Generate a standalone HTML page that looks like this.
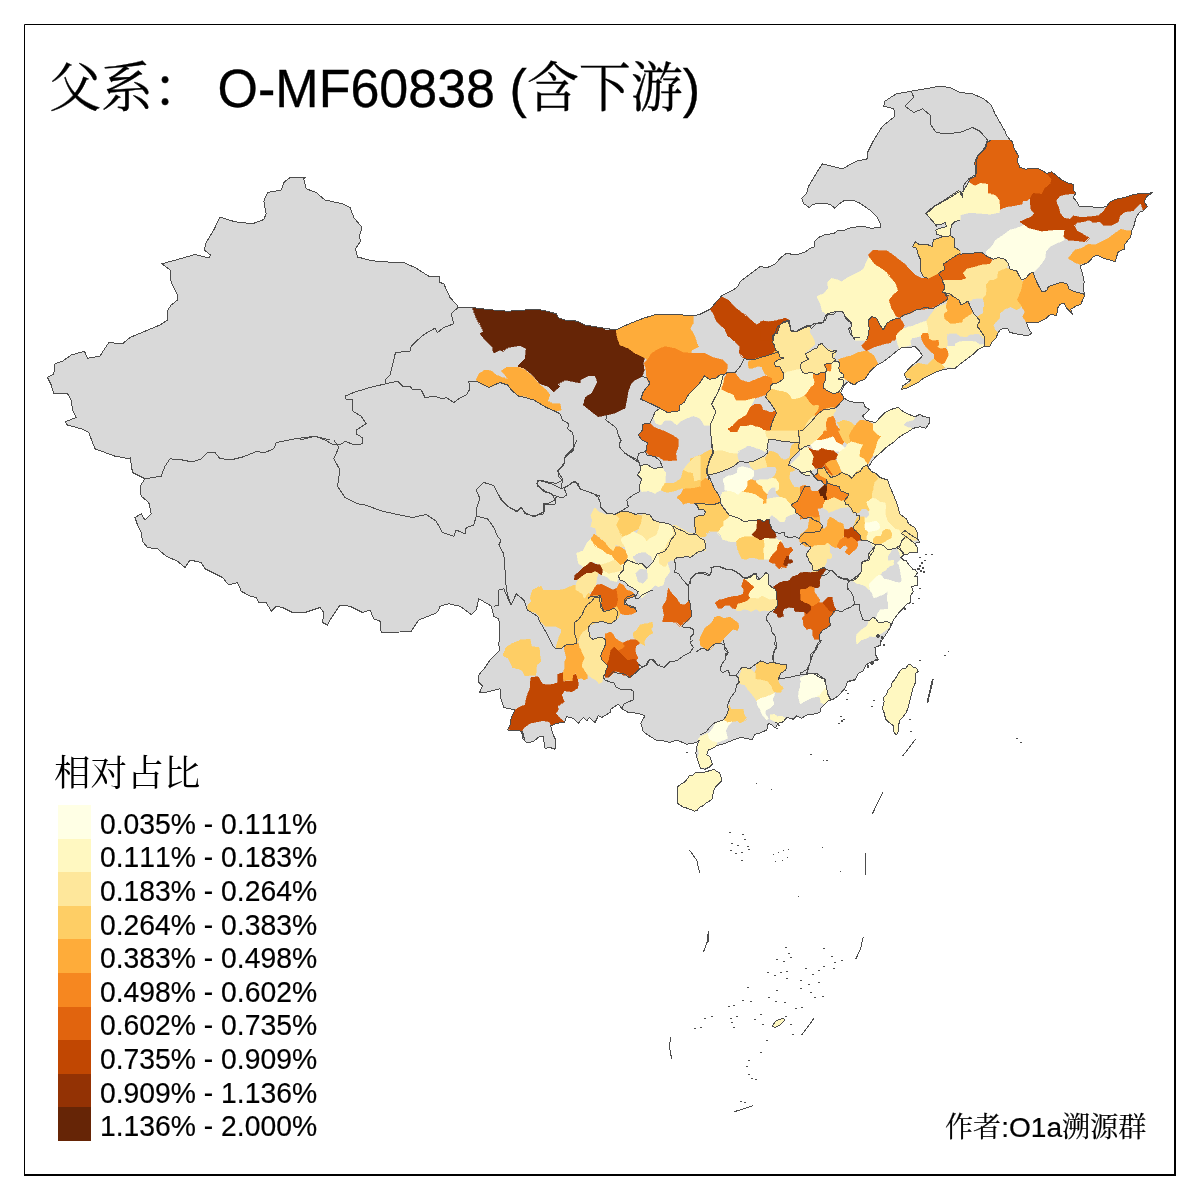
<!DOCTYPE html>
<html lang="zh"><head><meta charset="utf-8"><title>父系 O-MF60838</title>
<style>
html,body{margin:0;padding:0;background:#fff;}
body{width:1200px;height:1200px;overflow:hidden;font-family:"Liberation Sans","Noto Serif CJK SC",sans-serif;}
svg{display:block}
.t{font-family:"Liberation Sans","Noto Serif CJK SC",serif;fill:#000;font-kerning:none;white-space:pre}
</style></head><body>
<svg width="1200" height="1200" viewBox="0 0 1200 1200">
<rect x="0" y="0" width="1200" height="1200" fill="#fff"/>

<g fill="#D9D9D9" stroke="#4D4D4D" stroke-width="1" stroke-linejoin="round" shape-rendering="crispEdges">
<path d="M305,177.5 290,177.5 283.8,182.5 281.2,190 267.5,192.5 263.8,201.2 266.2,213.8 263.8,219.5 252.5,223.8 235,221.8 220,217 213.8,230 206.2,242.5 204.2,250 210.5,255 208.8,258 195,254.5 180,258.8 161.8,263.8 170,270 171.2,282.5 177.5,295 177.5,300 171.2,305 167,311.2 167.5,320 160,325 145,331.2 130,337.5 122.5,343.8 108.8,342.5 103.8,350 100,356.2 87.5,358.2 84.5,351.2 71.2,355 62.5,361.2 55,363.8 53.8,373.8 47.5,377.5 51.2,385 53.8,393.8 67.5,393.8 71.2,400 72.5,410 76.2,417.5 65,421.8 67.5,425 81.2,428.8 88.8,432.5 92.5,442.5 95,448.8 105,452.5 115,456.2 130,458.8 130,457 132.5,472.5 145,478.8 140,486.2 141.2,496.2 148.8,502.5 151.2,513.8 145,520 141.2,513.8 135,517.5 137.5,525 141.2,532.5 142.5,541.2 147.5,547.5 157.5,548.8 166.2,556.2 177.5,561.2 185,567.5 190,560 201.2,562.5 205,568.8 215,573.8 222.5,577.5 228.8,585 237.5,582.5 241.2,591.2 250,596.2 256.2,597.5 258.8,602.5 266.2,602.5 271.2,611.2 276.2,606.2 282.5,607.5 292.5,612.5 305,612.5 320,607.5 323.8,612.5 322.5,622.5 327.5,625 330,620 340,605 350,606.2 362.5,612.5 370,610 373.8,618.8 380,621.2 381.2,632.5 400,632 411.2,631.2 418.8,620 437.5,612.5 440,606.2 448.8,603.8 460,606.2 471.2,614.5 476.2,610 478.8,598.8 487.5,603.8 491.2,606.2 493.8,616.2 498.8,618.8 500,630 498.8,645 500,650 490,660 485,667.5 478.8,675 478.8,682.5 482.5,686.2 479.5,692.5 485,692.5 500,688.8 500,696.2 503.8,707.5 515,710 511.2,717.5 510,725 507.5,730 522.5,731.2 525,740 521.7,731.7 522.5,738.3 526.7,742.5 533.3,741.7 539.2,736.7 543.3,736.7 545,748.3 550,747.5 555,749.2 555.8,740 552.5,733.3 550.8,725.8 556.7,723.3 564.2,722.5 566.7,716.7 573.3,718.3 578.3,723.3 583.3,717.5 586.7,720.8 589.2,717.5 595,722.5 598.3,715.8 601.7,717.5 610,712.5 610.8,709.2 618.3,704.2 622.5,709.2 628.3,712.5 638.3,713.3 645,715.8 640.8,723.3 643.3,731.7 649.2,735.8 655.8,740 663.3,740.8 670,742.5 676.7,740 686.7,744.2 696.7,742.5 699.2,740 696.7,746.7 695.8,753.3 697.5,760 700,766.7 700,768.3 705,769.2 710,766.7 712.5,764.2 710,756.7 706.7,755 708.3,750 712.5,748.3 716.7,745.8 725,743.3 733.3,740 740,737.5 746.7,738.3 751.7,740 755,734.2 759.2,733.3 766.7,730 768.3,723.3 771.7,725 775,728.3 778.3,723.3 783.3,721.7 786.7,717.5 793.3,719.2 796.7,715.8 801.7,718.3 806.7,715 813.3,714.2 820,712.5 820.8,708.3 825,704.2 828.3,700.8 833.3,699.2 838.3,695.8 845,688.3 847.5,681.7 855,680 858.3,673.3 863.3,670.8 865.8,665 871.7,661.7 878.3,660 875.8,655 875,647.5 880.8,645 880,640 880,643.3 883.3,638.3 886.7,633.3 890.8,626.7 893.3,620 898.3,613.3 903.3,608.3 906.7,604.2 910.8,602.5 910,596.7 913.3,591.7 911.7,586.7 917.5,585 917.5,580 917.5,576.5 914.5,576.5 917.5,573 915,569.5 913,569.5 910.5,566.5 908,563.5 906,560.5 903.5,560 900.5,557.2 904,554.5 906.5,555 910,552.5 917.5,552.5 917.5,548 915,544 917,542 920,542 917.5,539 917.5,533 916,530 914.5,527.5 912,526 908.3,523.3 906.7,519.2 900,514.2 897.5,505 894.2,496.7 890,486.7 887.5,480 880,477.5 875.8,473.3 871.7,471.7 868.3,467.5 871.7,461.7 875.8,456.7 880,453.3 884.2,449.2 888.3,445.8 893.3,442.5 897.5,438.3 902.5,435 908.3,431.7 913.3,428.3 920,426.7 925.8,428.3 929.2,423.3 930,417.5 923.3,416.7 920,414.2 915,416.7 908.3,414.2 903.3,411.7 898.3,407.5 894.2,408.3 890,410 885,412.5 880,417.5 875.8,422.5 870.8,421.7 865.8,420 862.5,415.8 866.7,412.5 869.2,409.2 865,406.7 863.3,402.5 856.7,402.5 850,401.7 844.2,398.3 840.8,392.5 844.2,385 848.3,381.7 854.2,385 858.3,381.7 865,379.2 869.2,372.5 873.3,368.3 878.3,364.2 883.3,361.7 890,356.7 895,352.5 901.7,347.5 908.3,347.5 915,346.7 919.2,350.8 922.5,355.8 916.7,361.7 911.7,365.8 908.3,369.2 904.2,374.2 906.7,379.2 910.8,380 906.7,383.3 902.5,385.8 901.7,389.2 906.7,388.3 913.3,385 919.2,381.7 923.3,378.3 930,375 936.7,371.7 945,369.2 955,368.3 960,364.2 966.7,359.2 973.3,354.2 978.3,349.2 983,347 990,346 992,342 996,338 998,333 1000,330 1004,328 1008,329 1010,332.5 1018.3,334.2 1027.5,335.8 1031.7,333.3 1028.3,328.3 1026.7,322.5 1038.3,322.5 1045,319.2 1050.8,314.2 1056.7,315.8 1057.5,308.3 1060,304.2 1064.2,303.3 1066.7,308.3 1072.5,314.2 1070.8,309.2 1076.7,305.8 1080.8,304.2 1085,295 1083.3,290 1084.2,281.7 1082.5,273.3 1080,265.8 1088.3,262.5 1093.3,256.7 1096.7,255 1103.3,258.3 1110,260 1115,261.7 1118.3,251.7 1124.2,249.2 1125,244.2 1130.8,236.7 1131.7,230.8 1134.2,225 1135.8,218.3 1139.2,212.5 1143.3,210.8 1147.5,206.7 1144.2,201.7 1146.7,196.7 1152.5,192.5 1148.3,193.3 1140.8,193.3 1131.7,195 1124.2,197.5 1115.8,199.2 1109.2,202.5 1106.7,206.7 1100,207.5 1089.2,206.7 1079.2,206.7 1076.7,201.7 1073.3,197.5 1075.8,193.3 1073.3,190 1073.3,184.2 1068.3,183.3 1061.7,180 1056.7,175.8 1051.7,171.7 1046.7,173.3 1040,169.2 1033.3,168.3 1025.8,169.2 1020,167.5 1017.5,161.7 1018.3,155.8 1014.2,148.3 1011.7,140 1011.2,141.2 1006.2,135 1005,131.2 1000,122.5 995,113.8 991.2,105 983.8,98.8 972.5,93.8 960,92.5 950,87.5 940,86.2 925,88.8 911.2,91.2 896.2,93.8 885,101.2 883.8,106.2 893.8,108.8 895,116.2 882.5,126.2 873.8,140 867.5,152.5 867.5,158.8 856.2,161.2 842.5,168.8 822.5,163.8 818.3,170 813.3,178.3 808.3,186.7 806.7,193.3 801.7,198.3 803.3,203.3 809.2,207.5 813.3,204.2 821.7,203.3 830,204.2 835,208.3 840,203.3 845,200 853.3,200 860,203.3 865,206.7 870.8,210.8 876.7,216.7 880,222.5 880,227.5 870.8,228.3 865,226.7 859.2,226.7 850.8,227.5 845,230 838.3,230 834.2,233.3 824.2,235 818.3,237.5 814.2,241.7 815,246.7 810,248.3 805.8,251.7 795.8,255 786.7,253.3 781.7,256.7 775,264.2 767.5,267.5 760,266.7 740,281.7 737.5,286.7 733.3,290 721.7,295.8 710,309.2 700,314.2 693.3,315.8 683.3,315 670,314.2 656.7,314.2 643.3,318.3 628.3,324.2 615.8,330 600,327.5 585,325 577.5,321.2 565,320 558.8,318 556.2,313.8 550,312 541.2,310 530,309.5 520,310.5 507.5,311.2 487.5,309.5 472.5,307.5 457.5,308 457,305 450,297.5 443.8,283.8 440,282.5 439.5,277 428.8,276.2 415,267.5 402.5,262 387.5,262 372.5,260.8 357.5,257 355.5,248.8 360.5,241.2 359.5,236.2 362,227.5 353.8,217.5 350,207.5 342.5,203.8 325,200 316.2,192.5 306.2,188.8 303.8,178.8Z"/>
<path d="M677.5,786.7 680.8,784.2 685,781.7 688.3,777.5 689.6,775 693.3,775 695.8,772.5 699.2,772.9 703.3,772.5 706.7,771.7 710,770.4 714.2,769.6 716.7,771.7 719.6,772.5 720.4,775.8 721.7,778.3 721.2,781.2 718.3,784.2 715.8,786.7 714.2,789.2 713.3,792.5 712.5,796.7 712.1,799.2 709.2,801.2 705.8,803.3 703.3,805.8 700,806.7 697.5,810 694.6,811.2 691.7,810 687.5,808.3 683.3,807.1 680,805 677.5,803.3 677.9,800 677.1,795 677.5,790.8Z"/>
<path d="M908.3,664.6 910.8,664.6 913.3,667.1 916.7,668.3 918.3,671.2 915.8,673.3 915,676.7 915.8,680.8 914.6,685 912.5,689.2 911.7,693.3 910.4,698.3 909.2,703.3 907.9,708.3 906.2,712.5 903.3,716.7 900,720 898.8,724.2 898.3,729.2 897.9,733.3 896.7,734.6 895,733.8 893.8,731.7 893.3,725.8 891.7,724.2 888.8,722.5 885.8,719.2 884.6,715 883.8,711.7 882.5,709.2 883.3,705 884.2,701.7 883.3,697.5 886.7,694.2 887.9,690.4 891.2,686.7 891.7,683.3 895,679.2 897.5,675 900,670.8 902.5,668.8 905.8,668.3 907.5,665.8Z"/>
<path d="M772,1026 776,1021 783,1018 785,1020 780,1025 775,1027.5Z"/>
</g>
<clipPath id="landclip"><path d="M305,177.5 290,177.5 283.8,182.5 281.2,190 267.5,192.5 263.8,201.2 266.2,213.8 263.8,219.5 252.5,223.8 235,221.8 220,217 213.8,230 206.2,242.5 204.2,250 210.5,255 208.8,258 195,254.5 180,258.8 161.8,263.8 170,270 171.2,282.5 177.5,295 177.5,300 171.2,305 167,311.2 167.5,320 160,325 145,331.2 130,337.5 122.5,343.8 108.8,342.5 103.8,350 100,356.2 87.5,358.2 84.5,351.2 71.2,355 62.5,361.2 55,363.8 53.8,373.8 47.5,377.5 51.2,385 53.8,393.8 67.5,393.8 71.2,400 72.5,410 76.2,417.5 65,421.8 67.5,425 81.2,428.8 88.8,432.5 92.5,442.5 95,448.8 105,452.5 115,456.2 130,458.8 130,457 132.5,472.5 145,478.8 140,486.2 141.2,496.2 148.8,502.5 151.2,513.8 145,520 141.2,513.8 135,517.5 137.5,525 141.2,532.5 142.5,541.2 147.5,547.5 157.5,548.8 166.2,556.2 177.5,561.2 185,567.5 190,560 201.2,562.5 205,568.8 215,573.8 222.5,577.5 228.8,585 237.5,582.5 241.2,591.2 250,596.2 256.2,597.5 258.8,602.5 266.2,602.5 271.2,611.2 276.2,606.2 282.5,607.5 292.5,612.5 305,612.5 320,607.5 323.8,612.5 322.5,622.5 327.5,625 330,620 340,605 350,606.2 362.5,612.5 370,610 373.8,618.8 380,621.2 381.2,632.5 400,632 411.2,631.2 418.8,620 437.5,612.5 440,606.2 448.8,603.8 460,606.2 471.2,614.5 476.2,610 478.8,598.8 487.5,603.8 491.2,606.2 493.8,616.2 498.8,618.8 500,630 498.8,645 500,650 490,660 485,667.5 478.8,675 478.8,682.5 482.5,686.2 479.5,692.5 485,692.5 500,688.8 500,696.2 503.8,707.5 515,710 511.2,717.5 510,725 507.5,730 522.5,731.2 525,740 521.7,731.7 522.5,738.3 526.7,742.5 533.3,741.7 539.2,736.7 543.3,736.7 545,748.3 550,747.5 555,749.2 555.8,740 552.5,733.3 550.8,725.8 556.7,723.3 564.2,722.5 566.7,716.7 573.3,718.3 578.3,723.3 583.3,717.5 586.7,720.8 589.2,717.5 595,722.5 598.3,715.8 601.7,717.5 610,712.5 610.8,709.2 618.3,704.2 622.5,709.2 628.3,712.5 638.3,713.3 645,715.8 640.8,723.3 643.3,731.7 649.2,735.8 655.8,740 663.3,740.8 670,742.5 676.7,740 686.7,744.2 696.7,742.5 699.2,740 696.7,746.7 695.8,753.3 697.5,760 700,766.7 700,768.3 705,769.2 710,766.7 712.5,764.2 710,756.7 706.7,755 708.3,750 712.5,748.3 716.7,745.8 725,743.3 733.3,740 740,737.5 746.7,738.3 751.7,740 755,734.2 759.2,733.3 766.7,730 768.3,723.3 771.7,725 775,728.3 778.3,723.3 783.3,721.7 786.7,717.5 793.3,719.2 796.7,715.8 801.7,718.3 806.7,715 813.3,714.2 820,712.5 820.8,708.3 825,704.2 828.3,700.8 833.3,699.2 838.3,695.8 845,688.3 847.5,681.7 855,680 858.3,673.3 863.3,670.8 865.8,665 871.7,661.7 878.3,660 875.8,655 875,647.5 880.8,645 880,640 880,643.3 883.3,638.3 886.7,633.3 890.8,626.7 893.3,620 898.3,613.3 903.3,608.3 906.7,604.2 910.8,602.5 910,596.7 913.3,591.7 911.7,586.7 917.5,585 917.5,580 917.5,576.5 914.5,576.5 917.5,573 915,569.5 913,569.5 910.5,566.5 908,563.5 906,560.5 903.5,560 900.5,557.2 904,554.5 906.5,555 910,552.5 917.5,552.5 917.5,548 915,544 917,542 920,542 917.5,539 917.5,533 916,530 914.5,527.5 912,526 908.3,523.3 906.7,519.2 900,514.2 897.5,505 894.2,496.7 890,486.7 887.5,480 880,477.5 875.8,473.3 871.7,471.7 868.3,467.5 871.7,461.7 875.8,456.7 880,453.3 884.2,449.2 888.3,445.8 893.3,442.5 897.5,438.3 902.5,435 908.3,431.7 913.3,428.3 920,426.7 925.8,428.3 929.2,423.3 930,417.5 923.3,416.7 920,414.2 915,416.7 908.3,414.2 903.3,411.7 898.3,407.5 894.2,408.3 890,410 885,412.5 880,417.5 875.8,422.5 870.8,421.7 865.8,420 862.5,415.8 866.7,412.5 869.2,409.2 865,406.7 863.3,402.5 856.7,402.5 850,401.7 844.2,398.3 840.8,392.5 844.2,385 848.3,381.7 854.2,385 858.3,381.7 865,379.2 869.2,372.5 873.3,368.3 878.3,364.2 883.3,361.7 890,356.7 895,352.5 901.7,347.5 908.3,347.5 915,346.7 919.2,350.8 922.5,355.8 916.7,361.7 911.7,365.8 908.3,369.2 904.2,374.2 906.7,379.2 910.8,380 906.7,383.3 902.5,385.8 901.7,389.2 906.7,388.3 913.3,385 919.2,381.7 923.3,378.3 930,375 936.7,371.7 945,369.2 955,368.3 960,364.2 966.7,359.2 973.3,354.2 978.3,349.2 983,347 990,346 992,342 996,338 998,333 1000,330 1004,328 1008,329 1010,332.5 1018.3,334.2 1027.5,335.8 1031.7,333.3 1028.3,328.3 1026.7,322.5 1038.3,322.5 1045,319.2 1050.8,314.2 1056.7,315.8 1057.5,308.3 1060,304.2 1064.2,303.3 1066.7,308.3 1072.5,314.2 1070.8,309.2 1076.7,305.8 1080.8,304.2 1085,295 1083.3,290 1084.2,281.7 1082.5,273.3 1080,265.8 1088.3,262.5 1093.3,256.7 1096.7,255 1103.3,258.3 1110,260 1115,261.7 1118.3,251.7 1124.2,249.2 1125,244.2 1130.8,236.7 1131.7,230.8 1134.2,225 1135.8,218.3 1139.2,212.5 1143.3,210.8 1147.5,206.7 1144.2,201.7 1146.7,196.7 1152.5,192.5 1148.3,193.3 1140.8,193.3 1131.7,195 1124.2,197.5 1115.8,199.2 1109.2,202.5 1106.7,206.7 1100,207.5 1089.2,206.7 1079.2,206.7 1076.7,201.7 1073.3,197.5 1075.8,193.3 1073.3,190 1073.3,184.2 1068.3,183.3 1061.7,180 1056.7,175.8 1051.7,171.7 1046.7,173.3 1040,169.2 1033.3,168.3 1025.8,169.2 1020,167.5 1017.5,161.7 1018.3,155.8 1014.2,148.3 1011.7,140 1011.2,141.2 1006.2,135 1005,131.2 1000,122.5 995,113.8 991.2,105 983.8,98.8 972.5,93.8 960,92.5 950,87.5 940,86.2 925,88.8 911.2,91.2 896.2,93.8 885,101.2 883.8,106.2 893.8,108.8 895,116.2 882.5,126.2 873.8,140 867.5,152.5 867.5,158.8 856.2,161.2 842.5,168.8 822.5,163.8 818.3,170 813.3,178.3 808.3,186.7 806.7,193.3 801.7,198.3 803.3,203.3 809.2,207.5 813.3,204.2 821.7,203.3 830,204.2 835,208.3 840,203.3 845,200 853.3,200 860,203.3 865,206.7 870.8,210.8 876.7,216.7 880,222.5 880,227.5 870.8,228.3 865,226.7 859.2,226.7 850.8,227.5 845,230 838.3,230 834.2,233.3 824.2,235 818.3,237.5 814.2,241.7 815,246.7 810,248.3 805.8,251.7 795.8,255 786.7,253.3 781.7,256.7 775,264.2 767.5,267.5 760,266.7 740,281.7 737.5,286.7 733.3,290 721.7,295.8 710,309.2 700,314.2 693.3,315.8 683.3,315 670,314.2 656.7,314.2 643.3,318.3 628.3,324.2 615.8,330 600,327.5 585,325 577.5,321.2 565,320 558.8,318 556.2,313.8 550,312 541.2,310 530,309.5 520,310.5 507.5,311.2 487.5,309.5 472.5,307.5 457.5,308 457,305 450,297.5 443.8,283.8 440,282.5 439.5,277 428.8,276.2 415,267.5 402.5,262 387.5,262 372.5,260.8 357.5,257 355.5,248.8 360.5,241.2 359.5,236.2 362,227.5 353.8,217.5 350,207.5 342.5,203.8 325,200 316.2,192.5 306.2,188.8 303.8,178.8Z"/><path d="M677.5,786.7 680.8,784.2 685,781.7 688.3,777.5 689.6,775 693.3,775 695.8,772.5 699.2,772.9 703.3,772.5 706.7,771.7 710,770.4 714.2,769.6 716.7,771.7 719.6,772.5 720.4,775.8 721.7,778.3 721.2,781.2 718.3,784.2 715.8,786.7 714.2,789.2 713.3,792.5 712.5,796.7 712.1,799.2 709.2,801.2 705.8,803.3 703.3,805.8 700,806.7 697.5,810 694.6,811.2 691.7,810 687.5,808.3 683.3,807.1 680,805 677.5,803.3 677.9,800 677.1,795 677.5,790.8Z"/><path d="M908.3,664.6 910.8,664.6 913.3,667.1 916.7,668.3 918.3,671.2 915.8,673.3 915,676.7 915.8,680.8 914.6,685 912.5,689.2 911.7,693.3 910.4,698.3 909.2,703.3 907.9,708.3 906.2,712.5 903.3,716.7 900,720 898.8,724.2 898.3,729.2 897.9,733.3 896.7,734.6 895,733.8 893.8,731.7 893.3,725.8 891.7,724.2 888.8,722.5 885.8,719.2 884.6,715 883.8,711.7 882.5,709.2 883.3,705 884.2,701.7 883.3,697.5 886.7,694.2 887.9,690.4 891.2,686.7 891.7,683.3 895,679.2 897.5,675 900,670.8 902.5,668.8 905.8,668.3 907.5,665.8Z"/><path d="M772,1026 776,1021 783,1018 785,1020 780,1025 775,1027.5Z"/></clipPath>
<g stroke="none" clip-path="url(#landclip)" shape-rendering="crispEdges">
<path fill="#FEAC3A" stroke="#FEAC3A" stroke-width="0.6" d="M476.2,380 478.8,373.8 485,370 491.2,370.8 496.2,375 502.5,377.5 508.8,380 505,375 501.2,371.2 506.2,367.5 517.5,367 525,370 532.5,376.2 538.8,383.8 546.2,390 550,395 547.5,401.2 552.5,403.8 560,403.8 561.2,410 555,411.2 546.2,407.5 540,403.8 533.8,400 525,396.2 518.8,396.2 512.5,391.2 507.5,385 500,382.5 495,385 488.8,387.5 482.5,385Z"/>
<path fill="#662506" stroke="#662506" stroke-width="0.6" d="M472.5,307.5 487.5,309.5 507.5,311.2 520,310.5 530,309.5 541.2,310 550,312 556.2,313.8 558.8,318 565,320 577.5,321.2 585,325 580,324.2 590,325.8 601.7,326.7 605,330 615.8,330 617.5,338.3 620,345 628.3,348.3 635,353.3 644.2,357.5 643.3,363.3 644.2,370.8 641.7,376.7 635,380 630.8,384.2 628.3,390.8 626.7,400 625,408.3 614.2,413.3 606.7,415 598.3,416.7 591.7,411.7 583.3,405 585,397.5 591.7,393.3 595,386.7 597.5,381.7 595,375.8 588.3,375.8 580,380 580,383 565,380 557.5,383.8 560,386.2 553.8,392 547.5,386.2 540,383.8 532.5,375 525,368.8 517.5,366.2 525,358.8 526.2,348.8 520,345.5 507.5,347.5 502.5,351.2 500,350 493.8,353 492.5,347.5 486.2,341.2 480,333.8 483.8,331.2 476.2,317.5Z"/>
<path fill="#FEAC3A" stroke="#FEAC3A" stroke-width="0.6" d="M615.8,329.2 628.3,324.2 643.3,318.3 656.7,314.2 670,314.2 683.3,315 693.3,315.8 693.3,323.3 690,328.3 694.2,335 696.7,342.5 699.2,346.7 691.7,350 690.8,353.3 683.3,352.5 674.2,348.3 665,346.7 658.3,349.2 651.7,353.3 647.5,360 644.2,357.5 635,353.3 628.3,348.3 620,345 617.5,338.3Z"/>
<path fill="#F68720" stroke="#F68720" stroke-width="0.6" d="M651.7,353.3 658.3,349.2 665,346.7 674.2,348.3 683.3,352.5 690.8,353.3 705,353.3 713.3,357.5 722.5,360 727.5,365 726.7,370.8 723.3,375.8 720.8,374.2 715.8,378.3 709.2,379.2 704.2,375.8 700.8,381.7 695,388.3 688.3,395 684.2,402.5 680,405 679.2,410.8 667.5,412.5 660,408.3 650,403.3 640.8,399.2 643.3,391.7 650,383.3 646.7,377.5 645.8,368.3 644.2,363.3 647.5,360Z"/>
<path fill="#C14702" stroke="#C14702" stroke-width="0.6" d="M710,309.2 715.8,301.7 721.7,296.7 728.3,300 735,307.5 742.5,313.3 750,319.2 756.7,325 763.3,320.8 773.3,323.3 780,320 780,328.3 773.3,335 774.2,345 778.3,351.7 771.7,354.2 763.3,356.7 755,359.2 748.3,360 744.2,358.3 739.2,352.5 740,346.7 735,341.7 727.5,335.8 725,329.2 716.7,321.7 713.3,313.3Z"/>
<path fill="#F68720" stroke="#F68720" stroke-width="0.6" d="M727.5,372.5 735,373.3 740.8,380 748.3,382.5 756.7,379.2 765,375.8 771.7,377.5 773.3,383.3 770,390 765,395 755,398.3 745,400.8 735.8,400.8 733.3,395 725,391.7 720.8,389.2 723.3,381.7 725,376.7Z"/>
<path fill="#FFF8C1" stroke="#FFF8C1" stroke-width="0.6" d="M704.2,375.8 709.2,379.2 715.8,378.3 720.8,374.2 723.3,375.8 723.3,381.7 720,390 715.8,396.7 711.7,404.2 715.8,411.7 713.3,418.3 710,425 708.3,425 704.2,425 700,418.3 693.3,415.8 686.7,418.3 680,421.7 676.7,425 670.8,420 665,420 660.8,425 655.8,423.3 653.3,416.7 655,411.7 660,408.3 667.5,412.5 679.2,410.8 680,405 684.2,402.5 688.3,395 695,388.3 700.8,381.7Z"/>
<path fill="#FFF8C1" stroke="#FFF8C1" stroke-width="0.6" d="M723.3,381.7 720.8,389.2 725,391.7 733.3,395 735.8,400.8 745,400.8 755,398.3 750.8,406.7 746.7,415 738.3,420 733.3,425 727.5,429.2 731.7,431.7 737.5,430.8 740,425.8 746.7,425.8 753.3,423.3 760,426.7 765,430.8 768.3,438.3 767.5,445 765,450 756.7,448.3 746.7,444.2 740,448.3 735,453.3 726.7,454.2 721.7,450.8 713.3,452.5 711.7,445 710.8,433.3 710,425 713.3,418.3 715.8,411.7 711.7,404.2 715.8,396.7 720,390Z"/>
<path fill="#E1640E" stroke="#E1640E" stroke-width="0.6" d="M755,404.2 760,404.2 763.3,411.7 775,412.5 771.7,421.7 768.3,430.8 765,430.8 760,426.7 753.3,423.3 746.7,425.8 740,425.8 737.5,430.8 731.7,431.7 727.5,429.2 733.3,425 738.3,420 746.7,415 750.8,406.7Z"/>
<path fill="#E1640E" stroke="#E1640E" stroke-width="0.6" d="M642.5,424.2 650,423.3 654.2,427.5 663.3,430.8 673.3,435.8 678.3,439.2 678.3,446.7 675.8,453.3 676.7,460 670,460.8 663.3,460 658.3,456.7 650,455.8 645.8,451.7 647.5,442.5 641.7,440 638.3,435 642.5,430Z"/>
<path fill="#FECE65" stroke="#FECE65" stroke-width="0.6" d="M527.5,605 532.5,600 532.5,590 541.2,586.2 545,593.8 552.5,598.8 560,590 567.5,588.8 573.8,585 576.2,592.5 582.5,596.2 590,597.5 586.2,606.2 582.5,615 575,623.8 577.5,643.8 565,643.8 556.2,647.5 561.2,635 561.2,626.2 551.2,626.2 545,626.2 540,617.5 533.8,611.2 527.5,610Z"/>
<path fill="#FECE65" stroke="#FECE65" stroke-width="0.6" d="M505.8,647.5 512.5,643.3 520,640 530,639.2 531.7,646.7 539.2,647.5 540.8,661.7 536.7,665 535.8,675 525,675.8 521.7,670 512.5,667.5 508.3,658.3 502.5,655.8Z"/>
<path fill="#C14702" stroke="#C14702" stroke-width="0.6" d="M530.8,677.5 538.3,676.7 542.5,684.2 548.3,685 552.5,684.2 557.5,682.5 557.5,674.2 562.5,672.5 563.3,681.7 571.7,680.8 573.3,674.2 576.7,674.2 578.3,684.2 577.5,688.3 571.7,691.7 564.2,690.8 561.7,695 564.2,701.7 557.5,705.8 558.3,710 555.8,713.3 559.2,717.5 564.2,721.7 556.7,723.3 550.8,725 549.2,721.7 542.5,720.8 530,723.3 523.3,728.3 521.7,731.3 507.5,729.2 510.8,720 514.2,710.8 520,706.7 525,705 526.7,696.7 530,688.3Z"/>
<path fill="#FEAC3A" stroke="#FEAC3A" stroke-width="0.6" d="M700,640 720,640 714.2,645 707.5,650.8 702.5,646.7 700,645Z"/>
<path fill="#FECE65" stroke="#FECE65" stroke-width="0.6" d="M755.8,664.2 760.8,660.8 766.7,663.3 773.3,662.5 780.8,664.2 786.7,665 785.8,670 780.8,673.3 777.5,679.2 780,685 783.3,687.5 780,692.5 773.3,691.7 770.8,685.8 767.5,681.7 760.8,680 755,679.2 754.2,673.3 756.7,669.2Z"/>
<path fill="#FEE79B" stroke="#FEE79B" stroke-width="0.6" d="M741.7,667.5 750,668.3 755,673.3 755,679.2 760.8,680 767.5,681.7 770.8,685.8 773.3,691.7 775,693.3 766.7,696.7 760.8,698.3 756.7,700.8 752.5,695 748.3,690 745,685 738.3,683.3 738.3,677.5 740.8,672.5Z"/>
<path fill="#FFFFE5" stroke="#FFFFE5" stroke-width="0.6" d="M756.7,700.8 760.8,698.3 766.7,696.7 775,693.3 772.5,699.2 774.2,704.2 770,708.3 765.8,710 765,713.3 768.3,718.3 766.7,720 762.5,715 760,709.2 757.5,705Z"/>
<path fill="#FFF8C1" stroke="#FFF8C1" stroke-width="0.6" d="M770,715 774.2,714.2 777.5,716.7 781.7,715.8 785,718.3 783.3,721.7 778.3,722.5 773.3,720.8 770,719.2Z"/>
<path fill="#FECE65" stroke="#FECE65" stroke-width="0.6" d="M729.2,705 730.8,709.2 743.3,709.2 744.2,715 746.7,718.3 742.5,721.7 740,723.3 737.5,720.8 731.7,721.7 727.5,722.5 723.3,720 726.7,715 728.3,710Z"/>
<path fill="#FFFFE5" stroke="#FFFFE5" stroke-width="0.6" d="M715,722.5 723.3,720 727.5,722.5 731.7,721.7 727.5,726.7 725.8,730.8 727.5,738.3 721.7,740.8 716.7,742.5 712.5,741.7 708.3,738.3 707.5,733.3 711.7,730 714.2,725.8Z"/>
<path fill="#FFF8C1" stroke="#FFF8C1" stroke-width="0.6" d="M700,736.7 707.5,733.3 708.3,738.3 712.5,741.7 716.7,742.5 716.7,745.8 712.5,748.3 708.3,750 706.7,755 710,756.7 712.5,764.2 710,766.7 700,768.3 695.8,764.2 699.2,753.3 696.7,742.5Z"/>
<path fill="#FFFFE5" stroke="#FFFFE5" stroke-width="0.6" d="M806.7,674.2 813.3,673.3 820,677.5 825,679.2 825.8,688.3 820,690 817.5,696.7 811.7,697.5 805.8,700.8 800,703.3 798.3,696.7 799.2,690 801.7,683.3 800,678.3Z"/>
<path fill="#FFF8C1" stroke="#FFF8C1" stroke-width="0.6" d="M825.8,688.3 828.3,695 830.8,699.2 826.7,700.8 822.5,702.5 820,697.5 817.5,696.7 820,690Z"/>
<path fill="#FFF8C1" stroke="#FFF8C1" stroke-width="0.6" d="M711.5,430 765,430 766.5,436 769,439.5 767.5,445 767,449.5 764.5,451.5 760,449 754,446.5 748,445.5 743,448.5 739,450.5 737,454 733,453.5 729,453 725,451.5 720,450.5 714,451.5 712.5,447 711.5,440Z"/>
<path fill="#FEE79B" stroke="#FEE79B" stroke-width="0.6" d="M714,451.5 720,450.5 725,451.5 729,453 733,453.5 737,454 738,459 739.5,461.5 734,466 729,468.5 723,471 717,473 711.5,474.5 707.5,474 706.5,469.5 708.5,463 711.5,457Z"/>
<path fill="#FEE79B" stroke="#FEE79B" stroke-width="0.6" d="M765,430 799,430 798,434 800,439 799.5,443 796,442.5 790,442 783,441.5 776,440 769,439.5 766.5,436Z"/>
<path fill="#FECE65" stroke="#FECE65" stroke-width="0.6" d="M799,430 810,430 810,445 805,446.5 800,450 798,447 799.5,443 800,439 798,434Z"/>
<path fill="#FECE65" stroke="#FECE65" stroke-width="0.6" d="M792,445 796,442.5 799.5,443 798,447 800,450 796,454 791,459 788.5,465 793,468 795,470 790,472 789,478 791,482 794,487 801,488 803,490 800,496 797.5,501 791,505 788,502 786,499 780,497 777,494 776,491 779,489 778.5,483 776,479 772,478 775,475 777,470 776,467.5 773,466.5 767,467 766,463 764.5,459 767,455 769.5,451 774,452 778,454 780.5,458 784,460 788.5,458.5 790.5,455 790,450Z"/>
<path fill="#FFF8C1" stroke="#FFF8C1" stroke-width="0.6" d="M790,465 795,460 800,455 805,451.5 810,450 810,475 805,475 801,473 799,470 795,467Z"/>
<path fill="#F68720" stroke="#F68720" stroke-width="0.6" d="M803,490 805,486 810,487 810,517 804,519 801,516 796,513 795,509 791,507 791,505 797.5,501 800,496Z"/>
<path fill="#FEE79B" stroke="#FEE79B" stroke-width="0.6" d="M749,462 754,461 759,458.5 764,456 766,463 767,467 762,468 758,469 754,470 751,467Z"/>
<path fill="#FFFFE5" stroke="#FFFFE5" stroke-width="0.6" d="M723,479 728,476 733,475 737,473 738,468 742,466.5 746,467.5 750,468.5 754,471 753.5,476 751,479.5 748,481 747.5,486 746,489 742,491.5 738,495 734,492.5 729,491 725,490 724.5,484.5 723.5,482Z"/>
<path fill="#FEAC3A" stroke="#FEAC3A" stroke-width="0.6" d="M748,481 751,479.5 756,481 758,484 762,486 764,491 767,493.5 766.5,499 767,503.5 762.5,504 763,499.5 760,498 756,495 752,493.5 746,492.5 742.5,491.5 746,489 747.5,486Z"/>
<path fill="#FFF8C1" stroke="#FFF8C1" stroke-width="0.6" d="M758,484 756,481 760,479.5 766,480 772,478 776,479 778.5,483 779,489 776,491 775.5,487 772,487.5 769,490 767,493.5 764,491 762,486Z"/>
<path fill="#FFF8C1" stroke="#FFF8C1" stroke-width="0.6" d="M722,492.5 729,491 734,492.5 738,495 742,491.5 746,492.5 752,493.5 756,495 760,498 763,499.5 762.5,504 767,503.5 766.5,499 773,498 778,497 780,497 786,499 788,502 791,505 791,507 795,509 796,513 790,515 786,517 784,522 780,521.5 776,518 772,515 769,517 769.5,519.5 767,520 763.5,522.5 760,519.5 757,520 751,520 746,521.5 743,520.5 739,518 734,516 729.5,515 726,509 723,504.5 720.5,500 720.5,496Z"/>
<path fill="#933204" stroke="#933204" stroke-width="0.6" d="M757,520 760,519.5 763.5,522.5 767,520 769.5,519.5 770,524 772,529 775,533 776,535.5 775,538.5 769,538.5 765,538 761,541 757,538.5 754,537 751,534.5 754,532 756,529 756.5,524Z"/>
<path fill="#FEAC3A" stroke="#FEAC3A" stroke-width="0.6" d="M690,490 694,488 696,484 701,481 705,478 709,479.5 711.5,483 714.5,489 718,494 720,498 719.5,502.5 714,504.5 708,504 701,503.5 694,503 690,503.5Z"/>
<path fill="#FECE65" stroke="#FECE65" stroke-width="0.6" d="M690,459 695,457 701,455 705,452.5 711.5,449.5 713,454 709.5,461 707,468 706.5,473 708,475 705,478 701,481 696,484 694,488 690,490Z"/>
<path fill="#FECE65" stroke="#FECE65" stroke-width="0.6" d="M694,503 701,503.5 708,504 714,504.5 719.5,502.5 723,507 726,511 729,515 728.5,518 724,521 723.5,526 720,528.5 719,531 715,531.5 710,531 706.5,533.5 705,536.5 699.5,537 697,533 697.5,527 695,523 694,518 698,516 704,515 705.5,512 703,509 698.5,509 697.5,506Z"/>
<path fill="#FFF8C1" stroke="#FFF8C1" stroke-width="0.6" d="M728.5,518 729.5,515 734,516 739,518 743,520.5 746,521.5 751,520 757,520 756.5,524 756,529 754,532 751,534.5 754,537 750,536.5 744,537 739,538.5 736.5,541.5 730,541.5 723,539.5 721,536 717.5,532.5 719,531 720,528.5 723.5,526 724,521Z"/>
<path fill="#FECE65" stroke="#FECE65" stroke-width="0.6" d="M736.5,541.5 739,538.5 744,537 750,536.5 754,537 757,538.5 761,541 764.5,544 763.5,550 738,550 737,546Z"/>
<path fill="#E1640E" stroke="#E1640E" stroke-width="0.6" d="M779.5,541 782,544 784,548 790,549 790,550 777,550 778,545 777,542.5Z"/>
<path fill="#FEAC3A" stroke="#FEAC3A" stroke-width="0.6" d="M810,532 804,533 801,536 799,538.5 801,543 805,546 810,547Z"/>
<path fill="#FFF8C1" stroke="#FFF8C1" stroke-width="0.6" d="M765,538 769,538.5 775,538.5 778,539.5 779.5,541 777,542.5 778,545 777,550 763.5,550 764.5,544 761,541Z"/>
<path fill="#FEE79B" stroke="#FEE79B" stroke-width="0.6" d="M690,534 696,533.5 699.5,537 703,540 705,545 705.5,550 690,550Z"/>
<path fill="#E1640E" stroke="#E1640E" stroke-width="0.6" d="M729.5,430 737.5,430 737,431.5 730.5,431.5Z"/>
<path fill="#FFF8C1" stroke="#FFF8C1" stroke-width="0.6" d="M898.3,540 911.7,540 915.8,544.2 918.3,549.2 916.7,552.5 906.7,554.2 900.8,556.7 897.5,548.3 900,545Z"/>
<path fill="#FFFFE5" stroke="#FFFFE5" stroke-width="0.6" d="M800,683.3 807.5,673.3 816.7,673.3 824.2,679.2 826.7,686.7 823.3,690.8 820,695 815,695.8 806.7,700 800,704.2Z"/>
<path fill="#FFF8C1" stroke="#FFF8C1" stroke-width="0.6" d="M823.3,690.8 826.7,686.7 827.5,694.2 830.8,700 825,704.2 820.8,702.5 820,695Z"/>
<path fill="#FEAC3A" stroke="#FEAC3A" stroke-width="0.6" d="M839.2,360 848.3,357.5 858.3,352.5 866.7,350.8 873.3,355 876.7,361.7 878.3,364.2 873.3,368.3 869.2,372.5 865,379.2 858.3,381.7 854.2,385 848.3,381.7 844.2,375.8 845,370 840.8,365Z"/>
<path fill="#E1640E" stroke="#E1640E" stroke-width="0.6" d="M861.7,345.8 866.7,340 891.7,340 890.8,342.5 883.3,344.2 875,346.7 870,349.2 866.7,350.8 864.2,349.2Z"/>
<path fill="#FEE79B" stroke="#FEE79B" stroke-width="0.6" d="M806.7,353.3 815.8,349.2 820.8,344.2 826.7,348.3 832.5,350.8 835.8,353.3 833.3,358.3 836.7,361.7 830.8,363.3 831.7,368.3 825,371.7 816.7,371.7 810,368.3 801.7,369.2 800.8,365 806.7,361.7 805,356.7Z"/>
<path fill="#F68720" stroke="#F68720" stroke-width="0.6" d="M825,364.2 830.8,363.3 831.7,368.3 830,372.5 827.5,370.8Z"/>
<path fill="#FFF8C1" stroke="#FFF8C1" stroke-width="0.6" d="M830.8,363.3 836.7,361.7 841.7,365 840,368.3 844.2,375.8 845,381.7 840.8,387.5 840.8,392.5 835.8,394.2 830.8,390.8 826.7,390 823.3,386.7 825.8,381.7 825,375 827.5,370.8 830,372.5 831.7,368.3Z"/>
<path fill="#F68720" stroke="#F68720" stroke-width="0.6" d="M813.3,375 818.3,372.5 823.3,373.3 825,375 825.8,381.7 823.3,386.7 826.7,390 830.8,390.8 835.8,394.2 840.8,392.5 844.2,398.3 839.2,404.2 835,408.3 828.3,409.2 823.3,410 817.5,414.2 814.2,409.2 810,402.5 805,398.3 809.2,391.7 811.7,387.5 815,381.7Z"/>
<path fill="#FFF8C1" stroke="#FFF8C1" stroke-width="0.6" d="M800,373.3 810,372.5 813.3,375 815,381.7 811.7,387.5 809.2,391.7 805,398.3 800,397.5Z"/>
<path fill="#FECE65" stroke="#FECE65" stroke-width="0.6" d="M800,398.3 805,398.3 810,402.5 814.2,409.2 817.5,414.2 814.2,418.3 808.3,425 803.3,430 800,430.8Z"/>
<path fill="#FEE79B" stroke="#FEE79B" stroke-width="0.6" d="M817.5,414.2 823.3,410 828.3,409.2 835,408.3 831.7,415 827.5,420 825,426.7 823.3,433.3 816.7,440 810,445 800,449.2 800,430.8 803.3,430 808.3,425 814.2,418.3Z"/>
<path fill="#F68720" stroke="#F68720" stroke-width="0.6" d="M827.5,420 831.7,415.8 835,419.2 834.2,424.2 838.3,430 840.8,435.8 844.2,441.7 841.7,445 835.8,441.7 833.3,436.7 828.3,438.3 821.7,440 816.7,440 823.3,433.3 825,426.7Z"/>
<path fill="#FECE65" stroke="#FECE65" stroke-width="0.6" d="M837.5,422.5 843.3,420 850,421.7 855,425.8 851.7,430.8 849.2,435.8 850.8,441.7 847.5,444.2 844.2,441.7 840.8,435.8 838.3,430 840,426.7Z"/>
<path fill="#FEAC3A" stroke="#FEAC3A" stroke-width="0.6" d="M855,425.8 860,420 866.7,420.8 873.3,424.2 873.3,430 877.5,434.2 880.8,436.7 877.5,441.7 875.8,448.3 873.3,455 870,460 867.5,465 864.2,459.2 859.2,456.7 860,450 862.5,445 856.7,443.3 850.8,441.7 849.2,435.8 851.7,430.8Z"/>
<path fill="#FFF8C1" stroke="#FFF8C1" stroke-width="0.6" d="M873.3,424.2 880,417.5 885,412.5 890,410 894.2,408.3 898.3,407.5 903.3,411.7 908.3,414.2 915,416.7 913.3,420 906.7,421.7 903.3,425 908.3,427.5 913.3,428.3 908.3,431.7 902.5,435 897.5,438.3 893.3,442.5 888.3,445.8 884.2,449.2 880,453.3 875.8,456.7 873.3,455 875.8,448.3 877.5,441.7 880.8,436.7 877.5,434.2 873.3,430Z"/>
<path fill="#FFFFE5" stroke="#FFFFE5" stroke-width="0.6" d="M816.7,440 821.7,440 828.3,438.3 833.3,436.7 835.8,441.7 841.7,445 845,448.3 840,451.7 833.3,450.8 826.7,450 821.7,448.3 818.3,450.8 813.3,450 810.8,445Z"/>
<path fill="#FFF8C1" stroke="#FFF8C1" stroke-width="0.6" d="M845,448.3 847.5,444.2 850.8,441.7 856.7,443.3 862.5,445 860,450 859.2,456.7 864.2,459.2 867.5,465 863.3,466.7 860,471.7 855.8,473.3 851.7,478.3 848.3,475 843.3,473.3 840,467.5 837.5,461.7 836.7,455 840,451.7Z"/>
<path fill="#C14702" stroke="#C14702" stroke-width="0.6" d="M808.3,447.5 813.3,450 818.3,450.8 821.7,448.3 826.7,450 833.3,450.8 837.5,454.2 835.8,459.2 830,460.8 825,464.2 821.7,468.3 815,468.3 811.7,464.2 813.3,456.7 810.8,451.7Z"/>
<path fill="#FEAC3A" stroke="#FEAC3A" stroke-width="0.6" d="M825,464.2 830,460.8 835.8,460 839.2,466.7 841.7,472.5 836.7,475.8 832.5,475 829.2,470Z"/>
<path fill="#E1640E" stroke="#E1640E" stroke-width="0.6" d="M825,464.2 829.2,470 832.5,475 830.8,477.5 827.5,473.3 824.2,467.5Z"/>
<path fill="#FFF8C1" stroke="#FFF8C1" stroke-width="0.6" d="M800,449.2 808.3,447.5 810.8,451.7 813.3,456.7 811.7,464.2 815,468.3 810,471.7 800,472.5Z"/>
<path fill="#FECE65" stroke="#FECE65" stroke-width="0.6" d="M817.5,469.2 821.7,468.3 824.2,467.5 827.5,473.3 830.8,477.5 836.7,475.8 841.7,472.5 848.3,475 851.7,478.3 855.8,473.3 860,471.7 863.3,466.7 867.5,465 871.7,471.7 875.8,473.3 878.3,478.3 874.2,483.3 873.3,490 871.7,496.7 866.7,500.8 863.3,506.7 866.7,511.7 865.8,516.7 860.8,515 857.5,511.7 853.3,513.3 850,506.7 848.3,500 849.2,495 841.7,489.2 840,485.8 833.3,484.2 828.3,481.7 826.7,478.3 821.7,475.8 817.5,473.3Z"/>
<path fill="#FEE79B" stroke="#FEE79B" stroke-width="0.6" d="M875.8,473.3 880,477.5 887.5,480 890,486.7 894.2,496.7 897.5,505 900,514.2 906.7,519.2 908.3,523.3 915,528.3 917.5,534.2 916.7,540 893.3,540 888.3,535 886.7,528.3 886.7,518.3 885,510 886.7,503.3 881.7,498.3 878.3,491.7 873.3,490 874.2,483.3 878.3,478.3Z"/>
<path fill="#FFF8C1" stroke="#FFF8C1" stroke-width="0.6" d="M866.7,500.8 871.7,496.7 878.3,491.7 881.7,498.3 886.7,503.3 885,510 886.7,518.3 880,520.8 873.3,521.7 868.3,522.5 865.8,516.7 866.7,511.7 863.3,506.7Z"/>
<path fill="#FFFFE5" stroke="#FFFFE5" stroke-width="0.6" d="M865,525 868.3,522.5 873.3,521.7 880,520.8 883.3,525 881.7,530 875,534.2 868.3,533.3 864.2,530Z"/>
<path fill="#FEE79B" stroke="#FEE79B" stroke-width="0.6" d="M880,520.8 886.7,518.3 886.7,528.3 888.3,535 893.3,540 875,540 875,534.2 881.7,530 883.3,525Z"/>
<path fill="#FECE65" stroke="#FECE65" stroke-width="0.6" d="M857.5,516.7 860.8,515 865.8,516.7 868.3,522.5 865,525 864.2,530 868.3,533.3 875,534.2 875,540 861.7,540 856.7,531.7 853.3,526.7Z"/>
<path fill="#F68720" stroke="#F68720" stroke-width="0.6" d="M814.2,475.8 817.5,473.3 821.7,475.8 826.7,478.3 828.3,481.7 833.3,484.2 840,485.8 841.7,489.2 849.2,495 845,498.3 840,496.7 833.3,495.8 827.5,494.2 826.7,500 824.2,500.8 821.7,495 817.5,491.7 822.5,486.7 825,482.5 820,480 815.8,479.2Z"/>
<path fill="#662506" stroke="#662506" stroke-width="0.6" d="M818.3,490.8 822.5,486.7 825,485 826.7,489.2 825.8,495 826.7,500 824.2,500.8 821.7,495.8 819.2,496.7Z"/>
<path fill="#F68720" stroke="#F68720" stroke-width="0.6" d="M800,486.7 805,485 810,489.2 813.3,492.5 817.5,491.7 819.2,496.7 821.7,495.8 824.2,500.8 823.3,506.7 816.7,508.3 818.3,513.3 813.3,516.7 806.7,518.3 800,519.2Z"/>
<path fill="#FEE79B" stroke="#FEE79B" stroke-width="0.6" d="M826.7,500 833.3,495.8 840,496.7 845,498.3 849.2,495 848.3,500 850,506.7 843.3,507.5 835.8,508.3 828.3,511.7 823.3,506.7 824.2,500.8Z"/>
<path fill="#C14702" stroke="#C14702" stroke-width="0.6" d="M844.2,530 850,529.2 854.2,535 857.5,536.7 860.8,540 844.2,540Z"/>
<path fill="#E1640E" stroke="#E1640E" stroke-width="0.6" d="M990.8,140 1011.7,140 1014.2,148.3 1018.3,155.8 1017.5,161.7 1020,167.5 1025.8,169.2 1033.3,168.3 1040,169.2 1046.7,173.3 1051.7,179.2 1050.8,183.3 1045,188.3 1041.7,194.2 1033.3,193.3 1030,198.3 1026.7,200.8 1023.3,200.8 1021.7,204.2 1013.3,205.8 1006.7,206.7 1000,209.2 999.2,200 995.8,195.8 987.5,193.3 987.5,184.2 980.8,183.3 975,185.8 969.2,181.7 970,179.2 975.8,175.8 976.7,167.5 974.2,164.2 976.7,157.5 981.7,152.5 985.8,147.5 986.7,143.3Z"/>
<path fill="#C14702" stroke="#C14702" stroke-width="0.6" d="M1046.7,173.3 1051.7,171.7 1056.7,175.8 1061.7,180 1068.3,183.3 1073.3,184.2 1073.3,190 1075.8,193.3 1066.7,194.2 1060,195.8 1055.8,200.8 1058.3,206.7 1060,213.3 1064.2,218.3 1070,219.2 1073.3,215.8 1081.7,217.5 1090,216.7 1098.3,215.8 1103.3,211.7 1106.7,206.7 1109.2,202.5 1115.8,199.2 1124.2,197.5 1131.7,195 1140.8,193.3 1148.3,193.3 1152.5,192.5 1146.7,196.7 1144.2,201.7 1147.5,206.7 1143.3,210.8 1140.8,203.3 1136.7,206.7 1133.3,210.8 1125,211.7 1120,215.8 1118.3,221.7 1111.7,225 1103.3,225 1100,221.7 1093.3,222.5 1089.2,220 1083.3,221.7 1076.7,222.5 1074.2,225.8 1076.7,230.8 1081.7,233.3 1086.7,236.7 1089.2,237.5 1085,241.7 1076.7,240.8 1068.3,240 1063.3,236.7 1064.2,230 1058.3,230 1050,230.8 1041.7,231.7 1035,230 1028.3,228.3 1024.2,225 1020,221.7 1025.8,219.2 1031.7,216.7 1034.2,213.3 1030.8,209.2 1030,198.3 1033.3,193.3 1041.7,194.2 1045,188.3 1050.8,183.3 1051.7,179.2Z"/>
<path fill="#FFF8C1" stroke="#FFF8C1" stroke-width="0.6" d="M960,195 965,188.3 968.3,182.5 975,185.8 980.8,183.3 987.5,184.2 987.5,193.3 995.8,195.8 999.2,200 1000,209.2 999.2,212.5 990,214.2 980,213.3 970,212.5 960,215Z"/>
<path fill="#FFFFE5" stroke="#FFFFE5" stroke-width="0.6" d="M985.8,251.7 991.7,246.7 995.8,240 1003.3,235 1010,230 1016.7,228.3 1024.2,225 1028.3,228.3 1035,230 1041.7,231.7 1050,230.8 1058.3,230 1064.2,230 1063.3,236.7 1064.2,240 1056.7,243.3 1050,246.7 1045.8,251.7 1045,258.3 1041.7,263.3 1037.5,268.3 1033.3,272.5 1030,273.3 1025.8,278.3 1021.7,280 1019.2,275.8 1016.7,270.8 1010,269.2 1008.3,263.3 1005,259.2 998.3,257.5 993.3,259.2 987.5,256.7Z"/>
<path fill="#FEAC3A" stroke="#FEAC3A" stroke-width="0.6" d="M1068.3,258.3 1075,250 1081.7,248.3 1088.3,244.2 1095,245 1101.7,241.7 1108.3,238.3 1115,233.3 1120.8,229.2 1126.7,230.8 1131.7,230.8 1130.8,236.7 1125,244.2 1124.2,249.2 1118.3,251.7 1115,261.7 1110,260 1103.3,258.3 1096.7,255 1093.3,256.7 1088.3,262.5 1080,264.2 1075,262.5Z"/>
<path fill="#FEAC3A" stroke="#FEAC3A" stroke-width="0.6" d="M1016.7,300 1020.8,290 1022.5,281.7 1025.8,278.3 1030,273.3 1033.3,272.5 1035,278.3 1038.3,285 1041.7,291.7 1046.7,290.8 1048.3,286.7 1053.3,285 1060,282.5 1066.7,283.3 1069.2,289.2 1075,291.7 1083.3,294.2 1085,295 1080.8,304.2 1076.7,305.8 1070.8,309.2 1072.5,314.2 1066.7,308.3 1064.2,303.3 1060,304.2 1057.5,308.3 1056.7,315.8 1050.8,314.2 1045,319.2 1038.3,322.5 1026.7,322.5 1022.5,316.7 1025,311.7 1021.7,306.7Z"/>
<path fill="#E1640E" stroke="#E1640E" stroke-width="0.6" d="M960,254.2 970,253.3 981.7,252.5 985,255 987.5,256.7 992.5,260.8 990,264.2 981.7,265 973.3,267.5 966.7,269.2 963.3,273.3 966.7,278.3 960,280.8Z"/>
<path fill="#FEE79B" stroke="#FEE79B" stroke-width="0.6" d="M963.3,273.3 966.7,269.2 973.3,267.5 981.7,265 990,264.2 992.5,260.8 993.3,259.2 998.3,257.5 1005,259.2 1008.3,263.3 1006.7,268.3 998.3,271.7 997.5,278.3 990.8,281.7 986.7,286.7 987.5,291.7 983.3,298.3 976.7,296.7 970,299.2 960,300 960,280.8 966.7,278.3Z"/>
<path fill="#FECE65" stroke="#FECE65" stroke-width="0.6" d="M998.3,271.7 1006.7,268.3 1010,269.2 1016.7,270.8 1019.2,275.8 1021.7,280 1022.5,281.7 1020.8,290 1016.7,300 1021.7,306.7 1016.7,310 1010,306.7 1003.3,308.3 999.2,313.3 1000,316.7 993.3,325 978.3,325 982.5,315 985,308.3 983.3,298.3 987.5,291.7 986.7,286.7 990.8,281.7 997.5,278.3Z"/>
<path fill="#FFF8C1" stroke="#FFF8C1" stroke-width="0.6" d="M816.7,296.7 824.2,293.3 828.3,288.3 827.5,281.7 831.7,278.3 838.3,280 841.7,281.7 846.7,278.3 853.3,275 860,271.7 864.2,268.3 865.8,263.3 869.2,256.7 875,264.2 881.7,268.3 887.5,272.5 891.7,278.3 895.8,283.3 898.3,290.8 893.3,295 889.2,300 891.7,308.3 896.7,316.7 893.3,320 886.7,323.3 883.3,330 880,325 876.7,318.3 871.7,316.7 868.3,320 869.2,328.3 868.3,335 866.7,340 855,340 851.7,335 850.8,328.3 851.7,323.3 846.7,318.3 842.5,311.7 835,311.7 826.7,315 822.5,311.7 820.8,305Z"/>
<path fill="#E1640E" stroke="#E1640E" stroke-width="0.6" d="M868.3,255 873.3,250 880,250.8 886.7,250.8 893.3,255 899.2,260 905,264.2 910,270 915,275 921.7,278.3 928.3,278.3 933.3,275.8 938.3,273.3 941.7,278.3 945,286.7 942.5,291.7 948.3,295.8 946.7,300.8 941.7,302.5 935,306.7 928.3,308.3 922.5,309.2 915.8,310 910.8,313.3 905,315 900,317.5 896.7,316.7 891.7,308.3 889.2,300 893.3,295 898.3,290.8 895.8,283.3 891.7,278.3 887.5,272.5 881.7,268.3 875,264.2 869.2,256.7Z"/>
<path fill="#E1640E" stroke="#E1640E" stroke-width="0.6" d="M869.2,320 871.7,316.7 876.7,318.3 880,325 883.3,330 886.7,323.3 893.3,320 900,318.3 904.2,325 901.7,331.7 896.7,336.7 895,340 866.7,340 868.3,335 869.2,328.3Z"/>
<path fill="#FFF8C1" stroke="#FFF8C1" stroke-width="0.6" d="M925.8,213.3 933.3,206.7 941.7,201.7 951.7,195 959.2,190 960,191.7 960,220 955,221.7 951.7,225 950,233.3 950.8,235.8 943.3,236.7 936.7,234.2 935.8,230 940,228.3 946.7,226.7 945,222.5 940,225 935,224.2 931.7,220Z"/>
<path fill="#FECE65" stroke="#FECE65" stroke-width="0.6" d="M912.5,246.7 915,241.7 920,245 926.7,244.2 932.5,246.7 933.3,240 943.3,236.7 950.8,235.8 954.2,238.3 954.2,246.7 960,250.8 960,253.3 951.7,258.3 943.3,264.2 945,269.2 938.3,273.3 933.3,275.8 928.3,278.3 923.3,276.7 920,270 920.8,260 918.3,255 916.7,248.3Z"/>
<path fill="#E1640E" stroke="#E1640E" stroke-width="0.6" d="M960,253.3 960,282.5 951.7,282.5 943.3,280.8 941.7,278.3 938.3,273.3 945,269.2 943.3,264.2 951.7,258.3Z"/>
<path fill="#FEE79B" stroke="#FEE79B" stroke-width="0.6" d="M943.3,280.8 951.7,282.5 960,282.5 960,300.8 953.3,296.7 949.2,294.2 948.3,295.8 942.5,291.7 945,286.7Z"/>
<path fill="#C14702" stroke="#C14702" stroke-width="0.6" d="M760,321.7 770,321.7 780,320 785,318.3 788.3,320 783.3,322.5 777.5,326.7 775,333.3 772.5,340 760,340Z"/>
<path fill="#FEE79B" stroke="#FEE79B" stroke-width="0.6" d="M772.5,340 775,333.3 777.5,326.7 783.3,322.5 788.3,321.7 790.8,330 796.7,331.7 803.3,328.3 808.3,326.7 810,333.3 813.3,340Z"/>
<path fill="#FFF8C1" stroke="#FFF8C1" stroke-width="0.6" d="M640,465.8 646.7,464.2 653.3,468.3 662.5,467.5 665.8,472.5 665,483.3 660.8,490 655,493.3 648.3,490.8 641.7,491.7 639.2,485.8 641.7,479.2 637.5,475 640,470.8Z"/>
<path fill="#FEE79B" stroke="#FEE79B" stroke-width="0.6" d="M683.3,470 688.3,463.3 695,456.7 700,455.8 700,480 694.2,481.7 692.5,473.3 688.3,472.5Z"/>
<path fill="#FECE65" stroke="#FECE65" stroke-width="0.6" d="M660.8,490 665,483.3 673.3,483.3 680.8,479.2 683.3,470 688.3,472.5 692.5,473.3 694.2,481.7 700,480 700,486.7 693.3,488.3 686.7,489.2 681.7,488.3 675,490.8 666.7,492.5Z"/>
<path fill="#FEAC3A" stroke="#FEAC3A" stroke-width="0.6" d="M676.7,497.5 681.7,493.3 683.3,489.2 693.3,488.3 700,486.7 700,502.5 693.3,503.3 688.3,502.5 683.3,504.2 680.8,500.8Z"/>
<path fill="#FECE65" stroke="#FECE65" stroke-width="0.6" d="M695,516.7 700,515.8 700,537.5 697.5,536.7 694.2,528.3Z"/>
<path fill="#FEE79B" stroke="#FEE79B" stroke-width="0.6" d="M595,507.5 598.3,511.7 606.7,515 615,514.2 620,518.3 616.7,525 620,532.5 623.3,536.7 620.8,540 625,546.7 620,546.7 615,544.2 610,540 606.7,542.5 601.7,538.3 596.7,535 595.8,528.3 590.8,526.7 592.5,520 590.8,515.8Z"/>
<path fill="#FECE65" stroke="#FECE65" stroke-width="0.6" d="M615,514.2 620,511.7 628.3,511.7 635,514.2 642.5,515.8 641.7,521.7 639.2,528.3 633.3,531.7 628.3,535 623.3,536.7 620,532.5 616.7,525 620,518.3Z"/>
<path fill="#FEE79B" stroke="#FEE79B" stroke-width="0.6" d="M642.5,515.8 643.3,513.3 650,515 653.3,520 660,522.5 659.2,528.3 656.7,535 650,538.3 646.7,541.7 643.3,536.7 636.7,533.3 639.2,528.3 641.7,521.7Z"/>
<path fill="#FFF8C1" stroke="#FFF8C1" stroke-width="0.6" d="M623.3,536.7 628.3,535 633.3,531.7 636.7,533.3 643.3,536.7 646.7,541.7 650,538.3 656.7,535 659.2,528.3 660,522.5 668.3,523.3 673.3,526.7 675.8,534.2 670.8,540 668.3,546.7 664.2,551.7 656.7,554.2 653.3,561.7 650,566.7 646.7,568.3 641.7,563.3 638.3,564.2 631.7,561.7 627.5,560 626.7,555 625,546.7 620.8,540Z"/>
<path fill="#FFF8C1" stroke="#FFF8C1" stroke-width="0.6" d="M627.5,560 631.7,561.7 638.3,564.2 641.7,563.3 646.7,568.3 653.3,561.7 656.7,554.2 664.2,551.7 668.3,556.7 667.5,563.3 670,571.7 665,578.3 663.3,585 658.3,586.7 655,585 650,590 645,595 641.7,598.3 638.3,591.7 633.3,588.3 628.3,585.8 625,581.7 620,580 618.3,575.8 623.3,570 624.2,563.3Z"/>
<path fill="#D9D9D9" stroke="#D9D9D9" stroke-width="0.6" d="M632.5,556.7 638.3,553.3 645,552.5 650.8,556.7 652.5,561.7 649.2,567.5 645,568.3 641.7,563.3 636.7,562.5Z"/>
<path fill="#D9D9D9" stroke="#D9D9D9" stroke-width="0.6" d="M635.8,573.3 640,569.2 646.7,570 647.5,578.3 643.3,583.3 638.3,581.7Z"/>
<path fill="#FFF8C1" stroke="#FFF8C1" stroke-width="0.6" d="M576.7,553.3 583.3,550.8 586.7,543.3 590.8,539.2 593.3,542.5 596.7,546.7 601.7,549.2 606.7,553.3 611.7,555 615,560 620,565 624.2,563.3 623.3,570 619.2,576.7 616.7,581.7 610,580 606.7,576.7 601.7,575 602.5,570 600,565 593.3,561.7 588.3,564.2 583.3,566.7 578.3,563.3Z"/>
<path fill="#FEAC3A" stroke="#FEAC3A" stroke-width="0.6" d="M590.8,539.2 594.2,534.2 600,538.3 605,541.7 608.3,546.7 613.3,550.8 615,546.7 620,546.7 625,550 627.5,556.7 624.2,563.3 620,565 615,560 611.7,555 606.7,553.3 601.7,549.2 596.7,546.7 593.3,542.5Z"/>
<path fill="#FEE79B" stroke="#FEE79B" stroke-width="0.6" d="M600,538.3 606.7,542.5 610,540 615,544.2 615,546.7 613.3,550.8 608.3,546.7 605,541.7Z"/>
<path fill="#FEE79B" stroke="#FEE79B" stroke-width="0.6" d="M602.5,570 600,565 606.7,563.3 615,560 620,565 623.3,570 616.7,571.7 608.3,573.3Z"/>
<path fill="#933204" stroke="#933204" stroke-width="0.6" d="M574.2,580 575,575 579.2,571.7 583.3,567.5 588.3,564.2 590.8,561.7 595,564.2 600,565 602.5,570 601.7,575 598.3,573.3 595,571.7 591.7,573.3 586.7,573.3 581.7,576.7 578.3,579.2Z"/>
<path fill="#FEE79B" stroke="#FEE79B" stroke-width="0.6" d="M581.7,576.7 586.7,573.3 591.7,573.3 595,571.7 598.3,573.3 596.7,578.3 595.8,585 593.3,590 588.3,593.3 585,598.3 581.7,600 580.8,593.3 575,592.5 575.8,585 578.3,579.2Z"/>
<path fill="#FECE65" stroke="#FECE65" stroke-width="0.6" d="M532.5,590 538.3,586.7 543.3,590 546.7,596.7 551.7,600.8 558.3,593.3 563.3,590 570,586.7 575,585 575,592.5 580.8,593.3 581.7,600 585,598.3 588.3,593.3 593.3,595.8 590.8,602.5 586.7,606.7 582.5,613.3 578.3,620 574.2,622.5 574.2,633.3 575,640 561.7,640 562.5,630 556.7,626.7 550,621.7 546.7,625 541.7,621.7 539.2,615 535,612.5 528.3,610.8 527.5,608.3 532.5,603.3 530,598.3Z"/>
<path fill="#E1640E" stroke="#E1640E" stroke-width="0.6" d="M589.2,597.5 593.3,590 596.7,585 601.7,584.2 606.7,586.7 613.3,590 616.7,588.3 618.3,600 616.7,606.7 613.3,608.3 608.3,612.5 602.5,610 600.8,605 601.7,598.3 598.3,595.8 593.3,595.8Z"/>
<path fill="#F68720" stroke="#F68720" stroke-width="0.6" d="M616.7,588.3 619.2,583.3 623.3,585 626.7,590 631.7,591.7 635.8,595.8 631.7,597.5 626.7,599.2 624.2,604.2 630,605.8 635,607.5 636.7,611.7 631.7,614.2 625,615 620,613.3 616.7,606.7 618.3,600Z"/>
<path fill="#FECE65" stroke="#FECE65" stroke-width="0.6" d="M590.8,602.5 593.3,595.8 598.3,595.8 601.7,598.3 600.8,605 602.5,610 608.3,612.5 613.3,608.3 616.7,606.7 620,613.3 618.3,618.3 613.3,621.7 606.7,619.2 600,620 595,623.3 590,625 587.5,630 590,635 590.8,640 575,640 574.2,633.3 574.2,622.5 578.3,620 582.5,613.3 586.7,606.7Z"/>
<path fill="#E1640E" stroke="#E1640E" stroke-width="0.6" d="M668.3,588.3 671.7,593.3 676.7,598.3 680,604.2 685,605 689.2,600.8 690,606.7 691.7,615 688.3,620.8 683.3,622.5 680.8,626.7 676.7,622.5 670,621.7 662.5,621.7 664.2,615 662.5,606.7 666.7,600 667.5,593.3Z"/>
<path fill="#C14702" stroke="#C14702" stroke-width="0.6" d="M769,321.5 775,322 778,320 782,319.5 785,318 789,320 783,322 780,325 778.5,329 777.5,333.5 774,334 770,330Z"/>
<path fill="#FEAC3A" stroke="#FEAC3A" stroke-width="0.6" d="M749,361 752,360 758,358 763,357 768,355.5 773,353.5 775.5,350 778.5,352 780,357 783.5,358 778,360 774,363 775.5,366 780,367 781.5,370 784,374 783,379 780,381.5 777,383 773,383.5 772,378 768,376 765,374 763,370 762,367 758,366 753,368 749,368 748,364Z"/>
<path fill="#FEE79B" stroke="#FEE79B" stroke-width="0.6" d="M783,322 789,320 790,325 790.5,331 796,331.5 799,329.5 804,327 809,325 810,328.5 808.5,332 812,336 814,340 815,344.5 812,347 809,349.5 805.5,353.5 806.5,357 808.5,359 805,361 801.5,363 800,366 801,369 796,370 792,371 787,372 784,374 781.5,370 780,367 775.5,366 774,363 778,360 783.5,358 780,357 778.5,352 775.5,350 774.5,345 772,342 774,340 772,337 774,334 777.5,333.5 778.5,329 780,325Z"/>
<path fill="#FEE79B" stroke="#FEE79B" stroke-width="0.6" d="M801,369 800,366 801.5,363 805,361 808.5,359 806.5,357 805.5,353.5 809,352 814,349 817,348 819,344.5 822,343.5 825,347 828,350 832,352 835,350 837,351 834,353 832,354 833,358 836,359.5 834.5,361 832,363 828,363.5 824.5,364.5 826,368 827,371 824,372.5 820,373 817,375 813,373 809,372.5 806,374 803,372.5Z"/>
<path fill="#F68720" stroke="#F68720" stroke-width="0.6" d="M824.5,364.5 828,363.5 831.5,364 832,368 830.5,372 827.5,371.5 826,368Z"/>
<path fill="#FFF8C1" stroke="#FFF8C1" stroke-width="0.6" d="M832,363 834.5,361 838,361 840,364 838.5,368 840,372 843,374 844,377 840,378 838,379 843,380 844,384 841,389 838.5,392 834,394 830,392 826,390 823.5,388 823,385 825.5,380 826,376 825,373 827,371 830.5,372 832,368 831.5,364Z"/>
<path fill="#FEAC3A" stroke="#FEAC3A" stroke-width="0.6" d="M838.5,359 843,358 848,356.5 854,355.5 860,354 860,382 857,384 854,386 851,383.5 848,380 845,379 844,377 843,374 840,372 838.5,368 840,364 842,364.5 840,362Z"/>
<path fill="#FFF8C1" stroke="#FFF8C1" stroke-width="0.6" d="M784,374 787,372 792,371 796,370 801,369 803,372.5 806,374 809,372.5 813,373 813.5,378 815,382 814,385 811,387 809,390 807,393 804,396 800,398 796,399 792,399.5 790,396 787,393 783,391.5 779,391 775,390 771,389 770.5,386 773,383.5 777,383 780,381.5 783,379Z"/>
<path fill="#F68720" stroke="#F68720" stroke-width="0.6" d="M813,373 817,375 820,373 824,372.5 825,373 826,376 825.5,380 823,385 823.5,388 826,390 830,392 834,394 838.5,393 842,396 843.5,399 841,402 838,405 834,407.5 830,408 826,409 823,411 819,413 816,416 814.5,414 817,411 819,406 816,405 813,406 810,403 808,400 806,397 804,396 807,393 809,390 811,387 814,385 815,382 813.5,378Z"/>
<path fill="#FECE65" stroke="#FECE65" stroke-width="0.6" d="M767,393 771,389 775,390 779,391 783,391.5 787,393 790,396 792,399.5 796,399 800,398 804,396 806,397 808,400 810,403 813,406 816,405 819,406 817,411 814.5,414 812,417 809,420 806,425 804,430 770,430 772,423 774,418 776.5,413 774,408.5 771,404 768,400 765.5,397Z"/>
<path fill="#E1640E" stroke="#E1640E" stroke-width="0.6" d="M740,420 745,417 750,413 751,408 754,405 759,404 761.5,406 763,410 767,411 771,413 774,411 776.5,413 774,418 772,423 770,430 766,430 764,428 760,427 755,426 750,424 746,425 740,426Z"/>
<path fill="#FEE79B" stroke="#FEE79B" stroke-width="0.6" d="M816,416 819,413 823,411 826,409 830,408 834,407.5 836,410 834,413 833,416 828,418 826,423 827,430 804,430 806,425 809,420 812,417Z"/>
<path fill="#F68720" stroke="#F68720" stroke-width="0.6" d="M828,418 833,416 835,420 836,425 840,430 827,430 826,423Z"/>
<path fill="#FECE65" stroke="#FECE65" stroke-width="0.6" d="M818,470 827,470 828,473 831,475 833,478 835.5,475 842,475.5 843,473 847,474 850,478 854,476 856,472 860,470 869,470 872,473 876,476 878,479 875,482 874,486 873.5,490 872,494 872.5,498 870,499.5 866.5,502 868,506 870,510 868,511 865,509 862,509 860,512 856,513 853,512 851,508 848,504.5 845.5,504 844.5,500.5 847,497.5 849,494 845,492.5 841,491 839,486.5 833,485 827.5,483 825.5,479 821.5,477 819.5,474Z"/>
<path fill="#F68720" stroke="#F68720" stroke-width="0.6" d="M814,476.5 817,474.5 821.5,477 825.5,479 827.5,483 833,485 839,486.5 841,491 845,492.5 849,494 847,497.5 844.5,500.5 840.5,501 837,499 834,497.5 831,498.5 827.5,500 826,496 825,491.5 826.5,485.5 824,484 821.5,481 817.5,480Z"/>
<path fill="#662506" stroke="#662506" stroke-width="0.6" d="M818.5,491 822,488.5 826.5,485 827,490 825.5,494 827,499 825,500.5 822.5,496.5 820,496Z"/>
<path fill="#F68720" stroke="#F68720" stroke-width="0.6" d="M800,490 803,488.5 806,486 809,488.5 812,491.5 816,491 818.5,491 820,496 822.5,496.5 825,500.5 823.5,504 823,507 820,508.5 817,508 818.5,513 819.5,517 815,518 810,516 806,517.5 802,519 800,518Z"/>
<path fill="#FEE79B" stroke="#FEE79B" stroke-width="0.6" d="M825,500.5 827.5,500 831,498.5 834,497.5 837,499 840.5,501 844.5,500.5 845.5,504 843,506.5 840,508 835,510 829,512.5 827,510 824,508.5 823,507 823.5,504Z"/>
<path fill="#FEE79B" stroke="#FEE79B" stroke-width="0.6" d="M878,479 882,477.5 887,480 889,485 892,491 895,497 897.5,503 899.5,509 901,515 906,518 908.5,523 913,526 916,530 917,535 916,539 910,534 905,531 901,534 899,530 895,529 892,526 888,522 886,517 885,512 886,507 885,503 880,502 876,499 872.5,498 872,494 873.5,490 874,486 875,482Z"/>
<path fill="#FFF8C1" stroke="#FFF8C1" stroke-width="0.6" d="M866.5,502 870,499.5 872.5,498 876,499 880,502 885,503 886,507 885,512 886,517 888,522 892,526 895,529 899,530 901,534 904,538 902,542 899,546 896,548 892,549 888,547 884,546 880,544 877,545 874,544 870,542 866,540 866.5,536 868,532 865,530 864,526 865,523 864,520 864,516 868,514 870,510 868,506Z"/>
<path fill="#FFFFE5" stroke="#FFFFE5" stroke-width="0.6" d="M865,523 870,522.5 876,521 879,524 880,528 877,530 872,531 868,532 865,530 864,526Z"/>
<path fill="#FECE65" stroke="#FECE65" stroke-width="0.6" d="M874,538 876,536 881,536 883,531 886,529 890,530 892,534 891,538 887,540 884,542 880,544 877,545 874,544 873,541Z"/>
<path fill="#FECE65" stroke="#FECE65" stroke-width="0.6" d="M853,527 856,524 859,520 860,516 864,516 864,520 865,523 864,526 865,530 868,532 866.5,536 866,540 863,541 860,539 861,536 857,532 854.5,530Z"/>
<path fill="#D9D9D9" stroke="#D9D9D9" stroke-width="0.6" d="M857,515.5 860,512 862,509 865,509 868,511 869,515 866,517.5 864,516 860,516Z"/>
<path fill="#FEAC3A" stroke="#FEAC3A" stroke-width="0.6" d="M800,535 804,532 808,528 809,522 810,516 815,518 819.5,517 820,522 821.5,528 824,529 827,526 828,520 830,517 834,519 838,522 843,524 844.5,530 844,534 843,538 840,540 838,544 836,548 832,546 829,544 826,545 820,546 815,546.5 811,547.5 808,545 804,542 800,540Z"/>
<path fill="#C14702" stroke="#C14702" stroke-width="0.6" d="M844,530 848,529.5 852,527 854.5,530 857,532 861,536 860,539 857,541.5 854,539 851,537 848,539 845,537 844,534Z"/>
<path fill="#F68720" stroke="#F68720" stroke-width="0.6" d="M837,547 838,544 840,540 843,538 845,537 848,539 851,537 854,539 857,541.5 858,545 856,549 853,551 849,555 845,552 848,548 846,545 843,546 840,549Z"/>
<path fill="#FEE79B" stroke="#FEE79B" stroke-width="0.6" d="M806,555 809,550 811,547.5 815,546.5 820,546 826,545 829,544 830,549 829,553 832,557 830,559 827,558 826,563 824,567 821,568.5 817,571 813,570 812,565 809,561 808,558Z"/>
<path fill="#933204" stroke="#933204" stroke-width="0.6" d="M800,573 805,574 810,574 815,572 819.5,570 821,568.5 824,567.5 826,569 824,572 822,575 820,579 818.5,583 820,586 817,588 813,587 809,590 800,590Z"/>
<path fill="#FFF8C1" stroke="#FFF8C1" stroke-width="0.6" d="M870,542 874,544 877,545 880,544 884,546 888,547 892,549 890,553 887,557 888,561 892,561 894,564 890,566 886,569 882,572 880,575 883,578 885,580 880,580 876,578 872,581 870,585 869,590 865,586 860,584 856,583 853,581 857,578 860,574 862,570 861,566 862,562 866,561 869,558 868.5,554 872,550 874,547Z"/>
<path fill="#FFF8C1" stroke="#FFF8C1" stroke-width="0.6" d="M899,546 902,542 904,539 908,539 912,542 915,546 917,550 914,553 909,555 904,554 901,550Z"/>
<path fill="#FEE79B" stroke="#FEE79B" stroke-width="0.6" d="M690,540 705,540 706,545 705,550 702,551 698,553 694,555 690,557Z"/>
<path fill="#FECE65" stroke="#FECE65" stroke-width="0.6" d="M737,540 764,540 765,545 763.5,550 764.5,555 764,559 760,559.5 755,558 750,557.5 746,559.5 742,558.5 740,555 738,550 737.5,545Z"/>
<path fill="#FFF8C1" stroke="#FFF8C1" stroke-width="0.6" d="M764,540 782,540 780,543 778,545 777,550 774,553 771,557 769,559.5 764,559 764.5,555 763.5,550 765,545Z"/>
<path fill="#E1640E" stroke="#E1640E" stroke-width="0.6" d="M778,545 779.5,541.5 782,543 784,547.5 787,549 791,547 793,550 790,553 788.5,556 786,556.5 784.5,560 783.5,565 786.5,566 786,568 782,566.5 779.5,569 777,567 775,563.5 772,563 769,561.5 771,557 774,553 777,550Z"/>
<path fill="#933204" stroke="#933204" stroke-width="0.6" d="M784.5,560 786,556.5 788.5,556 789,559.5 792,560 793,562 790,563.5 788,562.5 786.5,566 783.5,565Z"/>
<path fill="#FEAC3A" stroke="#FEAC3A" stroke-width="0.6" d="M800,540 810,540 810,546 806,545 802,542.5Z"/>
<path fill="#933204" stroke="#933204" stroke-width="0.6" d="M773,587 776,585 779,583 783,581.5 788,581 791,579 795,577 800,573 805,572 810,573 810,588 805,589 801,589.5 800.5,594 802,598 804,601 810,604 810,614 807,614 804,611.5 799,611.5 795,611 794,608 789,607 784,609 782.5,612 783.5,616 780,617.5 778,617 777,614 773,612 775,609 778,605 777,600 776,596 776.5,592 775,589Z"/>
<path fill="#F68720" stroke="#F68720" stroke-width="0.6" d="M801,589.5 805,589 810,588 810,604 804,601 802,598 800.5,594Z"/>
<path fill="#E1640E" stroke="#E1640E" stroke-width="0.6" d="M804,611.5 807,614 810,614 810,629 807,628 804,625 803,620 802,618 805,615Z"/>
<path fill="#FFF8C1" stroke="#FFF8C1" stroke-width="0.6" d="M744,579 748,578 751,577 753,574 756,573.5 757,579 759,580 762,577 766,572.5 769,575 768,580 769,585 773,588 775,589 776.5,592 776,596 777,600 774,599 770,600 766,598 762,596 758,599 754,598 750,598 748,595 750,591 754,587 751,585 748,582Z"/>
<path fill="#E1640E" stroke="#E1640E" stroke-width="0.6" d="M715,603 719,600 724,599 728,597.5 733,596.5 738,596 743,594 744,590 741.5,586 743,582 744,579 748,582 751,585 754,587 750,591 748,595 750,598 747,601 742,603 738,604 736,609 732,608 729,605 725,605 722,608 718,608 716.5,605Z"/>
<path fill="#FEE79B" stroke="#FEE79B" stroke-width="0.6" d="M736,609 738,604 742,603 747,601 750,598 754,598 758,599 762,596 766,598 770,600 774,599 777,600 778,605 775,609 772,610 768,611 764,610 760,611.5 756,609 751,611.5 748,610 744,609 740,611 737,610.5Z"/>
<path fill="#FEAC3A" stroke="#FEAC3A" stroke-width="0.6" d="M714,617.5 719,616 724,618.5 730,617 734,620 738,623 739,627 737,630.5 733,629 730,632 727,635 724,638 722,641 719,643 715,644 711,647 708,651 705,649 702,644 699.5,640 701,636 703,632 705,628 709,625 712,622Z"/>
<path fill="#933204" stroke="#933204" stroke-width="0.6" d="M790,579 793,576.5 798,575 801,573 808,573 813,572 818,571 821,568 825,569 824,572 821,575 819,578 820,584 817,586 814,587.5 810,586.5 806,589 801,589 800,592 801,596 800.5,600 804,602 809,604 811.5,606.5 811,610 807,614 804,611.5 799,611.5 795,611 794,608 790,607Z"/>
<path fill="#F68720" stroke="#F68720" stroke-width="0.6" d="M800,592 801,589 806,589 810,586.5 814,587.5 814.5,592 817,596 820,600 819,602.5 815,605 811.5,606.5 809,604 804,602 800.5,600 801,596Z"/>
<path fill="#C14702" stroke="#C14702" stroke-width="0.6" d="M822,603 825,600 828,597.5 832,597 833,602 834,606 836,609 834,611.5 830,612 827.5,609 825,606Z"/>
<path fill="#E1640E" stroke="#E1640E" stroke-width="0.6" d="M811.5,606.5 815,605 819,602.5 822,603 825,606 827.5,609 830,612 834,611.5 832,615 829,618 830,623 831,625 827,628 823,630 820,634 819,639 815,639.5 812.5,635 812.5,630 810,628 807,629.5 804,626 803,620 802.5,618 807,614 811,610Z"/>
<path fill="#FEE79B" stroke="#FEE79B" stroke-width="0.6" d="M808,551 812,549 814,546 819,545 824,545.5 828,543 829.5,548 829,552 832,555 831,558 827,558 826,562 824,566 821,568 818,571 813,572 811.5,566 810,561 809,557 807.5,554Z"/>
<path fill="#FFF8C1" stroke="#FFF8C1" stroke-width="0.6" d="M853,581 857,577 861,573 862,569 861.5,564 864,561 869,560 870,556 873,552 875,546 878,545 881,547 885,550 890,553 887.5,556 888,561 894,560 893,565 888,566 886,570 882,572 879,575 875,578 872,581 869,584 865,585 862,583 858,584 855,582Z"/>
<path fill="#FFFFE5" stroke="#FFFFE5" stroke-width="0.6" d="M869,584 872,581 875,578 879,575 882,576 884,579 889,580 895,582 900,583 902,580 901,575 900,569 899,565 897,563 901,559 905,560 910,565 925,565 925,603 905,608 903,612 899,614 896,617 894,621 890,623 886,621 882,623 878,622 876,619 878,613 880,610 888,609 888.5,604 887,599 888,591 884,594 879,596 874,598 872,593 870,590Z"/>
<path fill="#FFF8C1" stroke="#FFF8C1" stroke-width="0.6" d="M857,644 856,639 857,634 861,630 864,628 867,626 869,621 873,617 876,619 878,622 882,623 886,621 890,623 889,627 886,630 882,633 878,635 874,637 870,636 867,638 864,639 861,640 859,642Z"/>
<path fill="#FEE79B" stroke="#FEE79B" stroke-width="0.6" d="M673,526 678,529 683,531 688,534 693,534 697,535 700,538 704,540 705.5,544 705,549 702,551 698,552 694,555 690,557.5 686,556 682,558 678,557 674,560 671,560 668,562 666,566 663,566 659,563 660,558 658,554 661,551 665,549 667,544 670,539 674,534 673,530Z"/>
<path fill="#FEE79B" stroke="#FEE79B" stroke-width="0.6" d="M673,525 677,526 682,529 689,533 695,534 700,537 705,541 706,550 666,550 669,543 673,536 675,533 672,529Z"/>
<path fill="#FECE65" stroke="#FECE65" stroke-width="0.6" d="M540,590 575,590 582,594 584,599 589,598 592,601 587,605 584.5,609 582,615 578,620 574,623 574.5,628 574.5,633 576,638 576.5,643 574,644 571,644.5 566,645 562,648 556,649 557,644 559,637 561.5,632 562,626 557,624 552,623 546,624 540,622Z"/>
<path fill="#FECE65" stroke="#FECE65" stroke-width="0.6" d="M574,623 578,620 582,615 584.5,609 587,605 592,601 594,598 599,597.5 600,602 602,607 604,611.5 610,610 614,608 617,611 617,616 616,620 612,623 608,623.5 604,622 601,621 597,623 593,622 590,625 588,628 586,630 583,632 580,637 579,641 576.5,643 576,638 574.5,633 574.5,628Z"/>
<path fill="#FEAC3A" stroke="#FEAC3A" stroke-width="0.6" d="M564,647 566,645 571,644.5 574,644 576.5,643 579,644.5 581,649 583,654 585,658 583,662 582,666 584.5,670 587,674 587.5,678 584,680 581,678 578,679 576,673 573,675 572,681 568,680 564,681 563,677 563.5,672 565,667 564.5,662 566.5,658 565,652Z"/>
<path fill="#FEE79B" stroke="#FEE79B" stroke-width="0.6" d="M579,641 580,637 583,632 586,630 588,628 589,632 590,637 593,639.5 597,638 602,637 605,639.5 606,643 604,648 602,652 600.5,656 602,660 605,663 608,666 606,670 605,674 603,677 602,682 599,683.5 596,680 592,678 588,675 587,674 584.5,670 582,666 583,662 585,658 583,654 581,649 579,644.5Z"/>
<path fill="#F68720" stroke="#F68720" stroke-width="0.6" d="M605,634 608,633 610,632 613,634 615,638 619,641 623,643 625,646 622,649 618,651 614,647 611,650 610,655 609,660 607,664 605,663 602,660 600.5,656 602,652 604,648 606,643 605,639.5Z"/>
<path fill="#E1640E" stroke="#E1640E" stroke-width="0.6" d="M623,643 627,641 632,639.5 637,640 640,643 636,646 635,650 636,654 638,658 636,660 633,659 630,660 627,660 623,656 619,652 618,651 622,649 625,646Z"/>
<path fill="#C14702" stroke="#C14702" stroke-width="0.6" d="M611,650 614,647 618,651 619,652 623,656 627,660 630,660 633,659 636,660 638.5,664 639,669 636,672 633,675 630.5,678 627,675 623,675 619,672 615,671 612,674 609,677 605,677 606,670 608,666 607,664 609,660 610,655Z"/>
<path fill="#FECE65" stroke="#FECE65" stroke-width="0.6" d="M633,633 637,630 640,625 644,624 648,623.5 652,622 653,626 651,629 653,633 649,635 646,638 644,642 645,645.5 642,644 640,643 637,640 634,638Z"/>
<path fill="#FEE79B" stroke="#FEE79B" stroke-width="0.6" d="M944,280 990,280 986,285 987,290 986,295 983,298 978,298 973,299 970,301 968,301 965,303 961,305 959,300 954,297 950,294 946,292 942,292 944.5,289 944,285Z"/>
<path fill="#FEE79B" stroke="#FEE79B" stroke-width="0.6" d="M948,299 946,304 940,306 935,309 932,313 927,320 926,325 928,329 927,334 929,339 933,341 938,340 939,344 937,347 941,349 945,348 947,346 947,340 946.5,335 950,333 956,333 960,336 966,337 970,334.5 978,333.5 982,336 984.5,340 984,336 980,330 977,326 980,321 977,317 974,314 972,313 969,315 966,317 963,319 962,322 956,323 950,323 945,319 944,314 948,311 946,307Z"/>
<path fill="#FEAC3A" stroke="#FEAC3A" stroke-width="0.6" d="M950,294 954,297 959,300 961,305 965,303 968,301 970,306 972,310 972,313 969,315 966,317 963,319 962,322 956,323 950,323 945,319 944,314 948,311 946,307 947,303 948,299Z"/>
<path fill="#FFF8C1" stroke="#FFF8C1" stroke-width="0.6" d="M896,336 899,332 903,329 908,327 913,326 920,323 926,321 927,325 928,329 927,334 923,333 921,336 917,337 912,338 910,341 911,345 907,346 903,347 900,349 898,345Z"/>
<path fill="#F68720" stroke="#F68720" stroke-width="0.6" d="M921,336 923,333 928,333.5 929,339 933,341 938,340 939,344 937,347 941,349 945,348 948,351 949,355 947,359 945,363 941,364 937,362 934,359 934,354 930,351 927,348 924,344 922,340Z"/>
<path fill="#FFF8C1" stroke="#FFF8C1" stroke-width="0.6" d="M947,346 955,346.5 955,344 959,342 964,341 970,341 976,342 980,345 983,344 983,347 979,350 975,352 971,355 967,358 963,361 960,365 957,369 953,368 949,367 945,367.5 942,365 945,363 947,359 949,355 948,351Z"/>
<path fill="#FECE65" stroke="#FECE65" stroke-width="0.6" d="M918,363 922,364 927,365 930,362 933,359 934,359 937,362 941,364 942,365 945,367.5 942,369 938,371 934,373 929,376 924,379 920,382 915,385 912,387 907,389 902.5,390 901.5,387 906,385 910,383 911,379 906,377 904,374 908,371 910,368 914,366Z"/>
<path fill="#FECE65" stroke="#FECE65" stroke-width="0.6" d="M990,280 1010,280 1010,307 1005,309 1000,313 999,319 993,324 995,330 998,333 996,338 992,342 990,346 984,346 984.5,340 984,336 980,330 977,326 980,321 977,317 980,315 984,313 983,308 985,305 984,300 983,298 986,295 987,290 986,285Z"/>
<path fill="#FFF8C1" stroke="#FFF8C1" stroke-width="0.6" d="M772,1026 776,1021 783,1018 785,1020 780,1025 775,1027.5Z"/>
<path fill="#FFF8C1" stroke="#FFF8C1" stroke-width="0.6" d="M677.5,786.7 680.8,784.2 685,781.7 688.3,777.5 689.6,775 693.3,775 695.8,772.5 699.2,772.9 703.3,772.5 706.7,771.7 710,770.4 714.2,769.6 716.7,771.7 719.6,772.5 720.4,775.8 721.7,778.3 721.2,781.2 718.3,784.2 715.8,786.7 714.2,789.2 713.3,792.5 712.5,796.7 712.1,799.2 709.2,801.2 705.8,803.3 703.3,805.8 700,806.7 697.5,810 694.6,811.2 691.7,810 687.5,808.3 683.3,807.1 680,805 677.5,803.3 677.9,800 677.1,795 677.5,790.8Z"/>
<path fill="#FFF8C1" stroke="#FFF8C1" stroke-width="0.6" d="M908.3,664.6 910.8,664.6 913.3,667.1 916.7,668.3 918.3,671.2 915.8,673.3 915,676.7 915.8,680.8 914.6,685 912.5,689.2 911.7,693.3 910.4,698.3 909.2,703.3 907.9,708.3 906.2,712.5 903.3,716.7 900,720 898.8,724.2 898.3,729.2 897.9,733.3 896.7,734.6 895,733.8 893.8,731.7 893.3,725.8 891.7,724.2 888.8,722.5 885.8,719.2 884.6,715 883.8,711.7 882.5,709.2 883.3,705 884.2,701.7 883.3,697.5 886.7,694.2 887.9,690.4 891.2,686.7 891.7,683.3 895,679.2 897.5,675 900,670.8 902.5,668.8 905.8,668.3 907.5,665.8Z"/>
</g>
<g fill="none" stroke="#4D4D4D" stroke-width="1" stroke-linejoin="round" shape-rendering="crispEdges">
<path d="M145,478.8 161.2,476.2 165,466.2 170,458.8 182.5,460 192.5,462 201.2,458.8 207.5,452.5 215,452.5 220,458.8 232.5,459.5 242.5,457 257.5,451.2 263.8,453 273.8,448.8 276.2,442.5 295,438.8 315,436.2 330,440"/>
<path d="M300,440 315,436.2 325,440 333.8,445"/>
<path d="M457.5,308 451.2,313.8 453.8,323.8 443.8,327.5 437.5,332.5 435,328.2 425,333.8 417.5,340 411.2,346.2 410,351.2 395.5,352.5 392.5,365 390,375 385,380 385.5,383.8"/>
<path d="M385.5,383.8 370,387.5 355,392 345,396.2 346.2,399.5 352.5,400 353,411.2 361.2,416.2 366.2,423.8 357,429.5 356.2,433.8 362,437.5 362,443.8 355,445 344.5,441.2 342.5,443.8 333.8,445"/>
<path d="M385.5,383.8 397.5,381.2 402.5,386.2 410,386.2 412.5,389.5 421.2,390 425,397.5 435,396.2 442.5,398.8 446.2,397.5 453.8,402.5 458.8,398.8 466.2,395 470,388.8 468.8,381.2 476.2,381.2 488.8,387.5 500,382.5 507.5,385 512.5,391.2 518.8,396.2 525,397.5 533.8,400 546.2,407.5 555,411.2 560,413.8 562.5,420 568.8,423.8 567.5,428.8 572.5,432.5 573.8,440"/>
<path d="M333.8,440 338.8,447.5 333.8,458.8 340,470 337.5,486.2 345,497.5 357.5,503.8 365,505 382.5,511.2 400,515 412.5,517.5 426.2,514.5 436.2,521.2 442.5,532.5 453.8,536.2 456.2,530 465,533.8 466.2,527.5 473.8,525 476.2,516.2"/>
<path d="M476.2,516.2 476.2,508.8 480,498.8 476.2,490 483.8,482.5 493.8,485.5 500,497.5 507.5,506.2 517.5,511.2 521.2,507 525,513.8 533.8,515.8 543.8,513.8 543.8,503.8 555,504.5 556.2,496.2 547.5,492.5 537.5,486.2 537.5,480 551.2,483.8 561.2,488.8"/>
<path d="M573.8,440 573.8,450 565,457.5 563.8,465 557.5,471.2 562.5,478.8 561.2,488.8 568.8,485 575,481.2 580,488.8 590,492.5 600,496.2"/>
<path d="M476.2,516.2 487.5,518.8 493.8,527.5 497.5,536.2 501.2,540 498.8,545 503.8,553.8 505,570 506.2,587.5 507.5,595 511.2,605"/>
<path d="M511.2,605 516.2,593.8 523.8,600 527.5,610 537.5,616.2 540,622"/>
<path d="M511.2,605 507.5,597.5 503.8,588.8 498.8,590 498.8,605 493.8,606.2"/>
<path d="M600,506.7 606.7,513.3 615,514.2 620,511.7 628.3,511.7 635,514.2 643.3,513.3 650,515 653.3,520 660,522.5 668.3,523.3 673.3,526.7"/>
<path d="M576.7,440 573.3,448.3 565,456.7 564.2,463.3 558.3,470 558.3,476.7 562.5,480 556.7,483.3 550,482.5 540,480 536.7,483.3 543.3,491.7 551.7,493.3 555,500 556.7,496.7 563.3,497.5 566.7,495 564.2,488.3 573.3,481.7 578.3,483.3 580,489.2 593.3,493.3 598.3,497.5 600.8,504.2 600,506.7"/>
<path d="M500,498.3 508.3,506.7 516.7,511.7 520.8,507.5 525.8,513.3 534.2,516.7 544.2,511.7 544.2,505 551.7,501.7 555,500"/>
<path d="M673.3,526.7 675.8,534.2 670.8,540 668.3,546.7 664.2,551.7 656.7,554.2 653.3,561.7 646.7,568.3 641.7,563.3 638.3,564.2 631.7,561.7 627.5,560 624.2,563.3 623.3,570 618.3,575.8 620,580 625,581.7 628.3,585.8 633.3,588.3 638.3,591.7 635.8,595.8 631.7,597.5 626.7,599.2 624.2,604.2 630,605.8 635,607.5 636.7,611.7"/>
<path d="M620,511.7 628.3,506.7 626.7,500 633.3,495 640,491.7 639.2,485.8 641.7,479.2 637.5,475 640,470.8 640,465.8 646.7,464.2 653.3,468.3 662.5,467.5 660,460.8 655,456.7 646.7,455 645,450"/>
<path d="M640,465.8 638.3,460 631.7,456.7 625,453.3 620,448.3 619.2,443.3 621.7,440"/>
<path d="M606.7,415 605.8,420 612.5,425 616.7,428.3 618.3,435 620.8,440 619.2,446.7 625,453.3 630,456.7 637.5,461.7 638.3,453.3 645.8,451.7 647.5,442.5 641.7,440 638.3,435 642.5,430 642.5,424.2 650,423.3 653.3,416.7 655,411.7 660,408.3 650,403.3 640.8,399.2 643.3,391.7 650,383.3 646.7,377.5 641.7,376.7"/>
<path d="M660,408.3 667.5,412.5 679.2,410.8 680,405 684.2,402.5 688.3,395 695,388.3 700.8,381.7 704.2,375.8 709.2,379.2 715.8,378.3 720.8,374.2 723.3,375 721.7,381.7 718.3,391.7 715,397.5 711.7,404.2 715.8,411.7 713.3,418.3 710,425 710.8,433.3 711.7,445 712.5,453.3 709.2,460 707.5,468.3 708.3,480"/>
<path d="M723.3,375 727.5,372.5 735,372.5 740,366.7 744.2,358.3 748.3,360 755,359.2 763.3,356.7 771.7,354.2 778.3,351.7"/>
<path d="M711.5,440 712.5,447 713.5,453 710,460 707,468 706.5,473 708.5,475 717,473 723,471 729,468.5 734,466 739.5,461.5 744,462 749,462 754,461 759,458.5 764,456 767.5,453 767,449.5 767.5,445 769,439.5 776,440 783,441.5 790,442 796,442.5 799.5,443 800,439 798,434 799,430"/>
<path d="M799.5,443 798,447 800,450 805,446.5 810,445"/>
<path d="M800,450 796,454 791,459 788.5,465 794,467.5 799,470 801,473 805,475 810,475"/>
<path d="M708.5,475 711.5,482 714.5,489 718,494 720,498 720,502.5 723,507 726,511 729,515 734,516.5 739,518.5 743,521 746,521.5 751,520 757,520 760,519 763.5,522 767,519.5 769.5,519.5 770,524 772,529 775,532 780,533.5 784,532 785,536 790,538 795,536.5 799,538.5"/>
<path d="M720,502.5 714,504.5 708,504.5 701,503.5 694,503 697.5,506 698.5,509 703,509 705.5,512 704,515 698,516 694,518 694.5,523 695,527 695,533 693,534"/>
<path d="M810,486 805,486 803,490 800,496 797.5,501 791,505 795,509 796,513 801,516 804,519 810,517"/>
<path d="M774.5,345 775.5,350 778.5,352 780,357 783.5,358 778,360 774,363 775.5,366 780,367 781.5,370 784,374 783,379 780,381.5 777,383 773,383.5 770.5,386 771,389 767,393 765.5,397 768,400 771,404 774,408.5 776.5,413 774,418 772,423 770,430"/>
<path d="M774.5,345 772,342 774,340 772,337 774,334 777.5,333.5 778.5,329 780,325 783,322 789,320 790,325 790.5,331 796,331.5 799,329.5 804,327 809,325 811.5,328.5 816,324 822,323 825.5,320 828,314 834,314 836,311.5 842.5,311.5 844,314 846,319 850,322 852,326 848.5,329 850,333 853,337 860,337"/>
<path d="M801,369 800,366 801.5,363 805,361 808.5,359 806.5,357 805.5,353.5 809,352 814,349 817,348 819,344.5 822,343.5 825,347 828,350 832,352 835,350 837,351 834,353 832,354 833,358 836,359.5 834.5,361 832,363 828,363.5 824.5,364.5 826,368 827,371 824,372.5 820,373 817,375 813,373 809,372.5 806,374 803,372.5 801,369"/>
<path d="M832,363 834.5,361 838,361 840,364 838.5,368 840,372 843,374 844,377 840,378 838,379 843,380 844,384 841,389 838.5,392 834,394 830,392 826,390 823.5,388 823,385 825.5,380 826,376 825,373 827,371"/>
<path d="M800,430.8 803.3,430 808.3,425 814.2,418.3 817.5,414.2 823.3,410 828.3,409.2 835,408.3 839.2,404.2 844.2,398.3"/>
<path d="M868.3,467.5 867.5,465 863.3,466.7 860,471.7 855.8,473.3 851.7,478.3 848.3,475 843.3,473.3 841.7,472.5 836.7,475.8 830.8,477.5 827.5,473.3 824.2,467.5 821.7,468.3 817.5,469.2 817.5,473.3 814.2,475.8 810,471.7 800,472.5"/>
<path d="M810.5,470 814,476.5 817.5,480 821.5,481 824,484 826.5,485.5 826.5,479 827.5,483 833,485 839,486.5 841,491 845,492.5 849,494 847,497.5 844.5,500.5 845.5,504 848,504.5 851,508 853,512 856,513 857,515.5 860,516 859,520 856,524 853,527 854.5,530 857,532 861,536 860,539 863,541 866,540 870,542 874,544 876,545"/>
<path d="M876,545 880,544 884,546 888,550 892,549 896,548 899,546 901,550 904,554 901,558"/>
<path d="M876,545 874,547 872,550 868.5,554 869,558 866,561 862,562 861,566 862,570 860,574 857,578 853,581 850,580 847,585 847,590"/>
<path d="M800,545 804,542 808,545 811,547.5 809,550 806,555 808,558 809,561 812,565 813,570 817,571 821,568.5 824,567.5 826,569 830,571 832,570 835,574 838,577 843,579 847,580 850,580"/>
<path d="M810,517 814,520 819,522 823,526 820,531 815,532 810,532 804,533 801,536 799,538.5"/>
<path d="M690,584 691,578 695,574 699,572.5 706,573 710,575 711.5,571 711,567.5 716,566 723,567.5 727,569.5 732,570 737,572 742,576 744.5,578.5 748,578 751,577 753,574 756,573.5 757,579 759,580 762,577 766,572.5 769,575 768,580 769,585 773,588 775,589 776.5,592 776,596 777,600 778,605 775,609 770,612 767,616 766.5,620 769,623 771,627 772,632 775,636 776,640 774,644 777,647 775,650 773,655 773,660"/>
<path d="M690,628 693,629 694,634 691,636 690,640"/>
<path d="M696,652 699,650 702,648 705,649 708,651 711,647 715,644 720,643 724,645 725,650 728,653 726,656 725,660"/>
<path d="M673,526 678,529 683,531 688,534 693,534"/>
<path d="M693,534 697,535 700,538 704,540 705.5,544 705,549 702,551 698,552 694,555 690,557.5 686,556 682,558 678,557 674,560 676,565 674.5,572 679,574 682,579 685,582 688,586 689,592 688,598 690,603 691,610 692,616 687,621 682,626 684,628 690,627.5 694,631 693,635 690,637 691,640"/>
<path d="M688,586 691,579 696,574 702,573 709,576 712,572 711,568 717,566 725,569 733,570 739,574 743,578 748,577 753,575 756,574.5 760,580"/>
<path d="M821,575 823,576 827,574 831,570 834,572 837,576 842,578 846,578 850,581 854,578.5 858,575 861,572 862,569 861.5,564 864,561 869,560 870,556 873,552 875,546 876,544"/>
<path d="M850,581 847,584 847.5,588 851,592 853,596 854,601 855,604 851,607 846,609 841,612 837,610 834,611.5 832,615 829,618 830,623 831,625 827,628 823,630 820,634 819,639 821,642 818,645 816,650 813,654 811,660"/>
<path d="M855,604 860,604 859,608 861,614 862.5,619 866,621 870,620 873,617 876,619 878,622 882,623 886,621 890,623 890,626"/>
<path d="M808.3,668.3 807.5,673.3 816.7,673.3 824.2,679.2 826.7,686.7 827.5,694.2 830.8,700"/>
<path d="M812.5,655 808.3,668.3 803.3,671.7 800,673.3"/>
<path d="M700,735 706.7,731.7 709.2,727.5 715,722.5 723.3,720 726.7,715 728.3,710 727.5,705 730.8,697.5 735,691.7 736.7,685 739.2,682.5 738.3,677.5 735.8,675.8 730,675.8 728.3,670 722.5,672.5 720,670 721.7,664.2 725,660 725,654.2 728.3,652.5 725,646.7 723.3,640"/>
<path d="M735.8,675.8 741.7,667.5 750,668.3 755.8,664.2 760.8,660.8 766.7,663.3 773.3,662.5 772.5,656.7 774.2,650 776.7,646.7 775.8,640"/>
<path d="M773.3,662.5 780.8,664.2 786.7,665 785.8,670 780.8,673.3 778.3,679.2 788.3,677.5 800,675 806.7,674.2 807.5,668.3 810.8,661.7 810,655 815,650 817.5,643.3 821.7,640"/>
<path d="M806.7,674.2 813.3,673.3 820,677.5 825,679.2 826.7,688.3 828.3,695 830.8,699.2"/>
<path d="M608.3,676.7 613.3,671.7 617.5,673.3 623.3,673.3 629.2,677.5 633.3,675 639.2,669.2 646.7,665 649.2,660 653.3,659.2 657.5,665 664.2,667.5 670,661.7 676.7,660.8 683.3,655.8 690,652.5 693.3,647.5 690,642.5 693.3,640"/>
<path d="M960,254.2 970,253.3 981.7,252.5 987.5,256.7 993.3,259.2 998.3,257.5 1005,259.2 1008.3,263.3 1010,269.2 1016.7,270.8 1019.2,275.8 1021.7,280 1025.8,278.3 1030,273.3 1033.3,272.5 1035,278.3 1038.3,285 1041.7,291.7 1046.7,290.8 1048.3,286.7 1053.3,285 1060,282.5 1066.7,283.3 1069.2,289.2 1075,291.7 1084.2,294.2"/>
<path d="M960,195 965,188.3 968.3,182.5 970,179.2 975.8,175.8 976.7,167.5 974.2,164.2 976.7,157.5 981.7,152.5 985.8,147.5 986.7,143.3 990.8,140"/>
<path d="M772.5,340 775,333.3 777.5,326.7 783.3,322.5 788.3,321.7 790.8,330 796.7,331.7 803.3,328.3 808.3,326.7 815,323.3 823.3,322.5 825,316.7 828.3,313.3 835.8,311.7 842.5,311.7 846.7,318.3 851.7,323.3 850.8,328.3 851.7,335 855,340"/>
<path d="M866.7,340 868.3,335 869.2,328.3 868.3,320 871.7,316.7 876.7,318.3 880,325 883.3,330 886.7,323.3 890,321.7"/>
<path d="M948.3,295.8 942.5,291.7 945,286.7 941.7,278.3 938.3,273.3 945,269.2 943.3,264.2 951.7,258.3 960,253.3"/>
<path d="M960,250.8 954.2,246.7 954.2,238.3 950.8,235.8 950,233.3 951.7,225 955,221.7 960,220"/>
<path d="M950.8,235.8 943.3,236.7 936.7,234.2 935.8,230 940,228.3 946.7,226.7 945,222.5 940,225 935,224.2 931.7,220 925.8,213.3 933.3,206.7 941.7,201.7 951.7,195 959.2,190"/>
<path d="M950.8,235.8 943.3,236.7 933.3,240 932.5,246.7 926.7,244.2 920,245 915,241.7 912.5,246.7 916.7,248.3 918.3,255 920.8,260 920,270 923.3,276.7 928.3,278.3"/>
<path d="M911.2,91.2 913.8,97.5 905,106.2 913.8,112.5 922.5,108.8 930,115 930,123.8 936.2,132.5 945,133.8 960,132.5 972.5,127.5 980,131.2 987.5,140 985,147.5 977.5,156.2 976.2,165 975,175 968.8,178.8 963.8,185 962.5,197.5 960,191.2 950,197.5 935,206.2 926.2,213.8 933.8,222.5 937.5,227.5"/>
<path d="M540,622 543,627 547,634 550,640 553,646 556,649 562,648 566,645 571,644.5 574,644 576.5,643 576,638 574.5,633 574.5,628 574,623 578,620 582,615 584.5,609 587,605 592,601 594,598 599,597.5 600,602 602,607 604,611.5 610,610 614,608 617,611 617,616 616,620 612,623 608,623.5 604,622 601,621 597,623 593,622 590,625 588,628 589,632 590,637 593,639.5 597,638 602,637 605,639.5 606,643 604,648 602,652 600.5,656 602,660 605,663 608,666 606,670 605,674 603,677 605,680 610,682 614,683 616,687 620,689 625,689.5 630,689 633,691 634,695 633,700 628,702 624,704 622,708"/>
<path d="M599,597.5 600,595 596,597 592,596 588,598 589,598"/>
<path d="M604,611.5 601,608 600,604 602,600 600,595.5"/>
<path d="M638.5,664 642,667 646,665 649,660 652,659 655,663 658,666 660,664"/>
<path d="M636,610 634,608 630,607 626,603 624,600 627,597 630,596 634,594 636,599 639,598 642,595 646,593 650,591 653,590"/>
<path d="M890,321 895,319 900,318 904,315 910,313 916,310 921,309 925,307 932,309 937,306 942,303 948,299 944.5,293 942,292 944.5,289 944,285 942,281"/>
<path d="M942,292 946,293 950,294 954,297 959,300 961,305 965,303 968,301 970,306 972,310 974,314 977,317 980,321 977,326 980,330 984,336 984.5,340 984,346"/>
<path d="M917.5,539 910,534.5 905,530.5 901.5,533.5 906,536.5 910,539.5 915,544"/>
<path d="M904,554.5 901,551 897,547.5 900.5,545.5 901.5,541 905,537.5"/>
<path d="M305,177.5 290,177.5 283.8,182.5 281.2,190 267.5,192.5 263.8,201.2 266.2,213.8 263.8,219.5 252.5,223.8 235,221.8 220,217 213.8,230 206.2,242.5 204.2,250 210.5,255 208.8,258 195,254.5 180,258.8 161.8,263.8 170,270 171.2,282.5 177.5,295 177.5,300 171.2,305 167,311.2 167.5,320 160,325 145,331.2 130,337.5 122.5,343.8 108.8,342.5 103.8,350 100,356.2 87.5,358.2 84.5,351.2 71.2,355 62.5,361.2 55,363.8 53.8,373.8 47.5,377.5 51.2,385 53.8,393.8 67.5,393.8 71.2,400 72.5,410 76.2,417.5 65,421.8 67.5,425 81.2,428.8 88.8,432.5 92.5,442.5 95,448.8 105,452.5 115,456.2 130,458.8 130,457 132.5,472.5 145,478.8 140,486.2 141.2,496.2 148.8,502.5 151.2,513.8 145,520 141.2,513.8 135,517.5 137.5,525 141.2,532.5 142.5,541.2 147.5,547.5 157.5,548.8 166.2,556.2 177.5,561.2 185,567.5 190,560 201.2,562.5 205,568.8 215,573.8 222.5,577.5 228.8,585 237.5,582.5 241.2,591.2 250,596.2 256.2,597.5 258.8,602.5 266.2,602.5 271.2,611.2 276.2,606.2 282.5,607.5 292.5,612.5 305,612.5 320,607.5 323.8,612.5 322.5,622.5 327.5,625 330,620 340,605 350,606.2 362.5,612.5 370,610 373.8,618.8 380,621.2 381.2,632.5 400,632 411.2,631.2 418.8,620 437.5,612.5 440,606.2 448.8,603.8 460,606.2 471.2,614.5 476.2,610 478.8,598.8 487.5,603.8 491.2,606.2 493.8,616.2 498.8,618.8 500,630 498.8,645 500,650 490,660 485,667.5 478.8,675 478.8,682.5 482.5,686.2 479.5,692.5 485,692.5 500,688.8 500,696.2 503.8,707.5 515,710 511.2,717.5 510,725 507.5,730 522.5,731.2 525,740 521.7,731.7 522.5,738.3 526.7,742.5 533.3,741.7 539.2,736.7 543.3,736.7 545,748.3 550,747.5 555,749.2 555.8,740 552.5,733.3 550.8,725.8 556.7,723.3 564.2,722.5 566.7,716.7 573.3,718.3 578.3,723.3 583.3,717.5 586.7,720.8 589.2,717.5 595,722.5 598.3,715.8 601.7,717.5 610,712.5 610.8,709.2 618.3,704.2 622.5,709.2 628.3,712.5 638.3,713.3 645,715.8 640.8,723.3 643.3,731.7 649.2,735.8 655.8,740 663.3,740.8 670,742.5 676.7,740 686.7,744.2 696.7,742.5 699.2,740 696.7,746.7 695.8,753.3 697.5,760 700,766.7 700,768.3 705,769.2 710,766.7 712.5,764.2 710,756.7 706.7,755 708.3,750 712.5,748.3 716.7,745.8 725,743.3 733.3,740 740,737.5 746.7,738.3 751.7,740 755,734.2 759.2,733.3 766.7,730 768.3,723.3 771.7,725 775,728.3 778.3,723.3 783.3,721.7 786.7,717.5 793.3,719.2 796.7,715.8 801.7,718.3 806.7,715 813.3,714.2 820,712.5 820.8,708.3 825,704.2 828.3,700.8 833.3,699.2 838.3,695.8 845,688.3 847.5,681.7 855,680 858.3,673.3 863.3,670.8 865.8,665 871.7,661.7 878.3,660 875.8,655 875,647.5 880.8,645 880,640 880,643.3 883.3,638.3 886.7,633.3 890.8,626.7 893.3,620 898.3,613.3 903.3,608.3 906.7,604.2 910.8,602.5 910,596.7 913.3,591.7 911.7,586.7 917.5,585 917.5,580 917.5,576.5 914.5,576.5 917.5,573 915,569.5 913,569.5 910.5,566.5 908,563.5 906,560.5 903.5,560 900.5,557.2 904,554.5 906.5,555 910,552.5 917.5,552.5 917.5,548 915,544 917,542 920,542 917.5,539 917.5,533 916,530 914.5,527.5 912,526 908.3,523.3 906.7,519.2 900,514.2 897.5,505 894.2,496.7 890,486.7 887.5,480 880,477.5 875.8,473.3 871.7,471.7 868.3,467.5 871.7,461.7 875.8,456.7 880,453.3 884.2,449.2 888.3,445.8 893.3,442.5 897.5,438.3 902.5,435 908.3,431.7 913.3,428.3 920,426.7 925.8,428.3 929.2,423.3 930,417.5 923.3,416.7 920,414.2 915,416.7 908.3,414.2 903.3,411.7 898.3,407.5 894.2,408.3 890,410 885,412.5 880,417.5 875.8,422.5 870.8,421.7 865.8,420 862.5,415.8 866.7,412.5 869.2,409.2 865,406.7 863.3,402.5 856.7,402.5 850,401.7 844.2,398.3 840.8,392.5 844.2,385 848.3,381.7 854.2,385 858.3,381.7 865,379.2 869.2,372.5 873.3,368.3 878.3,364.2 883.3,361.7 890,356.7 895,352.5 901.7,347.5 908.3,347.5 915,346.7 919.2,350.8 922.5,355.8 916.7,361.7 911.7,365.8 908.3,369.2 904.2,374.2 906.7,379.2 910.8,380 906.7,383.3 902.5,385.8 901.7,389.2 906.7,388.3 913.3,385 919.2,381.7 923.3,378.3 930,375 936.7,371.7 945,369.2 955,368.3 960,364.2 966.7,359.2 973.3,354.2 978.3,349.2 983,347 990,346 992,342 996,338 998,333 1000,330 1004,328 1008,329 1010,332.5 1018.3,334.2 1027.5,335.8 1031.7,333.3 1028.3,328.3 1026.7,322.5 1038.3,322.5 1045,319.2 1050.8,314.2 1056.7,315.8 1057.5,308.3 1060,304.2 1064.2,303.3 1066.7,308.3 1072.5,314.2 1070.8,309.2 1076.7,305.8 1080.8,304.2 1085,295 1083.3,290 1084.2,281.7 1082.5,273.3 1080,265.8 1088.3,262.5 1093.3,256.7 1096.7,255 1103.3,258.3 1110,260 1115,261.7 1118.3,251.7 1124.2,249.2 1125,244.2 1130.8,236.7 1131.7,230.8 1134.2,225 1135.8,218.3 1139.2,212.5 1143.3,210.8 1147.5,206.7 1144.2,201.7 1146.7,196.7 1152.5,192.5 1148.3,193.3 1140.8,193.3 1131.7,195 1124.2,197.5 1115.8,199.2 1109.2,202.5 1106.7,206.7 1100,207.5 1089.2,206.7 1079.2,206.7 1076.7,201.7 1073.3,197.5 1075.8,193.3 1073.3,190 1073.3,184.2 1068.3,183.3 1061.7,180 1056.7,175.8 1051.7,171.7 1046.7,173.3 1040,169.2 1033.3,168.3 1025.8,169.2 1020,167.5 1017.5,161.7 1018.3,155.8 1014.2,148.3 1011.7,140 1011.2,141.2 1006.2,135 1005,131.2 1000,122.5 995,113.8 991.2,105 983.8,98.8 972.5,93.8 960,92.5 950,87.5 940,86.2 925,88.8 911.2,91.2 896.2,93.8 885,101.2 883.8,106.2 893.8,108.8 895,116.2 882.5,126.2 873.8,140 867.5,152.5 867.5,158.8 856.2,161.2 842.5,168.8 822.5,163.8 818.3,170 813.3,178.3 808.3,186.7 806.7,193.3 801.7,198.3 803.3,203.3 809.2,207.5 813.3,204.2 821.7,203.3 830,204.2 835,208.3 840,203.3 845,200 853.3,200 860,203.3 865,206.7 870.8,210.8 876.7,216.7 880,222.5 880,227.5 870.8,228.3 865,226.7 859.2,226.7 850.8,227.5 845,230 838.3,230 834.2,233.3 824.2,235 818.3,237.5 814.2,241.7 815,246.7 810,248.3 805.8,251.7 795.8,255 786.7,253.3 781.7,256.7 775,264.2 767.5,267.5 760,266.7 740,281.7 737.5,286.7 733.3,290 721.7,295.8 710,309.2 700,314.2 693.3,315.8 683.3,315 670,314.2 656.7,314.2 643.3,318.3 628.3,324.2 615.8,330 600,327.5 585,325 577.5,321.2 565,320 558.8,318 556.2,313.8 550,312 541.2,310 530,309.5 520,310.5 507.5,311.2 487.5,309.5 472.5,307.5 457.5,308 457,305 450,297.5 443.8,283.8 440,282.5 439.5,277 428.8,276.2 415,267.5 402.5,262 387.5,262 372.5,260.8 357.5,257 355.5,248.8 360.5,241.2 359.5,236.2 362,227.5 353.8,217.5 350,207.5 342.5,203.8 325,200 316.2,192.5 306.2,188.8 303.8,178.8Z"/>
<path d="M677.5,786.7 680.8,784.2 685,781.7 688.3,777.5 689.6,775 693.3,775 695.8,772.5 699.2,772.9 703.3,772.5 706.7,771.7 710,770.4 714.2,769.6 716.7,771.7 719.6,772.5 720.4,775.8 721.7,778.3 721.2,781.2 718.3,784.2 715.8,786.7 714.2,789.2 713.3,792.5 712.5,796.7 712.1,799.2 709.2,801.2 705.8,803.3 703.3,805.8 700,806.7 697.5,810 694.6,811.2 691.7,810 687.5,808.3 683.3,807.1 680,805 677.5,803.3 677.9,800 677.1,795 677.5,790.8Z"/>
<path d="M908.3,664.6 910.8,664.6 913.3,667.1 916.7,668.3 918.3,671.2 915.8,673.3 915,676.7 915.8,680.8 914.6,685 912.5,689.2 911.7,693.3 910.4,698.3 909.2,703.3 907.9,708.3 906.2,712.5 903.3,716.7 900,720 898.8,724.2 898.3,729.2 897.9,733.3 896.7,734.6 895,733.8 893.8,731.7 893.3,725.8 891.7,724.2 888.8,722.5 885.8,719.2 884.6,715 883.8,711.7 882.5,709.2 883.3,705 884.2,701.7 883.3,697.5 886.7,694.2 887.9,690.4 891.2,686.7 891.7,683.3 895,679.2 897.5,675 900,670.8 902.5,668.8 905.8,668.3 907.5,665.8Z"/>
<path d="M772,1026 776,1021 783,1018 785,1020 780,1025 775,1027.5Z"/>
</g>
<g fill="none" stroke="#4D4D4D" stroke-width="1" shape-rendering="crispEdges">
<path d="M882.7,792.3 872.3,814"/>
<path d="M865,853.3 865,875"/>
<path d="M865.8,853.3 865.8,875"/>
<path d="M863.3,936.7 860.5,949 855.7,959.3"/>
<path d="M814,1018.3 801.7,1035"/>
<path d="M753.3,1105.7 734.3,1111.7"/>
<path d="M670.7,1037.3 669.3,1046.7 671.7,1059"/>
<path d="M708.3,931 707.3,941.7 703.3,952.3"/>
<path d="M709,931 708,941.7"/>
<path d="M689.3,850 696.7,860 699.7,872.7"/>
<path d="M932.5,679.2 927,702.5"/>
<path d="M933.3,679.2 927.8,702.5"/>
<path d="M729,832 730.5,832.8"/>
<path d="M742,834 743.5,834.8"/>
<path d="M731,843 732.5,843.8"/>
<path d="M737,845 738.5,845.8"/>
<path d="M747,846 748.5,846.8"/>
<path d="M730,850 731.5,850.8"/>
<path d="M741,852 742.5,852.8"/>
<path d="M748,849 749.5,849.8"/>
<path d="M735,853 736.5,853.8"/>
<path d="M741,860 742.5,860.8"/>
<path d="M744,839 745.5,839.8"/>
<path d="M773,855 774.5,854.5"/>
<path d="M778,853 779.5,852.5"/>
<path d="M783,851 784.5,850.5"/>
<path d="M788,850 789.5,849.5"/>
<path d="M775,862 776.5,861.5"/>
<path d="M782,861 783.5,860.5"/>
<path d="M787,858 788.5,857.5"/>
<path d="M756,783 757.5,783.5"/>
<path d="M771,789 772.5,789.5"/>
<path d="M822,847 823.5,847.5"/>
<path d="M840,871 841.5,871.5"/>
<path d="M798,896 799.5,896.5"/>
<path d="M823,760 824.5,760.5"/>
<path d="M785,947 786.6,947.6"/>
<path d="M788,953 789.6,953.6"/>
<path d="M776,959 777.6,959.6"/>
<path d="M783,961 784.6,961.6"/>
<path d="M790,957 791.6,957.6"/>
<path d="M823,948 824.6,948.6"/>
<path d="M831,956 832.6,956.6"/>
<path d="M834,962 835.6,962.6"/>
<path d="M841,960 842.6,960.6"/>
<path d="M767,972 768.6,972.6"/>
<path d="M774,975 775.6,975.6"/>
<path d="M780,972 781.6,972.6"/>
<path d="M786,971 787.6,971.6"/>
<path d="M805,968 806.6,968.6"/>
<path d="M812,974 813.6,974.6"/>
<path d="M818,970 819.6,970.6"/>
<path d="M823,966 824.6,966.6"/>
<path d="M833,968 834.6,968.6"/>
<path d="M786,978 787.6,978.6"/>
<path d="M800,980 801.6,980.6"/>
<path d="M808,984 809.6,984.6"/>
<path d="M818,982 819.6,982.6"/>
<path d="M776,990 777.6,990.6"/>
<path d="M800,988 801.6,988.6"/>
<path d="M810,992 811.6,992.6"/>
<path d="M747,987 748.6,987.6"/>
<path d="M768,997 769.6,997.6"/>
<path d="M775,1001 776.6,1001.6"/>
<path d="M784,1002 785.6,1002.6"/>
<path d="M814,997 815.6,997.6"/>
<path d="M822,996 823.6,996.6"/>
<path d="M742,1000 743.6,1000.6"/>
<path d="M750,1001 751.6,1001.6"/>
<path d="M728,1006 729.6,1006.6"/>
<path d="M733,1005 734.6,1005.6"/>
<path d="M795,1008 796.6,1008.6"/>
<path d="M801,1007 802.6,1007.6"/>
<path d="M730,1018 731.6,1018.6"/>
<path d="M736,1016 737.6,1016.6"/>
<path d="M754,1019 755.6,1019.6"/>
<path d="M760,1014 761.6,1014.6"/>
<path d="M762,1024 763.6,1024.6"/>
<path d="M785,1016 786.6,1016.6"/>
<path d="M790,1024 791.6,1024.6"/>
<path d="M792,1034 793.6,1034.6"/>
<path d="M766,1040 767.6,1040.6"/>
<path d="M760,1052 761.6,1052.6"/>
<path d="M748,1060 749.6,1060.6"/>
<path d="M746,1066 747.6,1066.6"/>
<path d="M748,1074 749.6,1074.6"/>
<path d="M751,1078 752.6,1078.6"/>
<path d="M755,1079 756.6,1079.6"/>
<path d="M740,1101 741.6,1101.6"/>
<path d="M744,1102 745.6,1102.6"/>
<path d="M731,1022 732.6,1022.6"/>
<path d="M733,1027 734.6,1027.6"/>
<path d="M694,1028 695.6,1028.6"/>
<path d="M700,1027 701.6,1027.6"/>
<path d="M704,1018 705.6,1018.6"/>
<path d="M711,1016 712.6,1016.6"/>
<path d="M845,690 846.5,690.7"/>
<path d="M847,693 848.5,693.7"/>
<path d="M846,699 847.5,699.7"/>
<path d="M840,716 841.5,716.7"/>
<path d="M843,719 844.5,719.7"/>
<path d="M838,723 839.5,723.7"/>
<path d="M775,722 776.5,722.7"/>
<path d="M778,725 779.5,725.7"/>
<path d="M781,722 782.5,722.7"/>
<path d="M776,728 777.5,728.7"/>
<path d="M873,700 874.5,700.7"/>
<path d="M871,706 872.5,706.7"/>
<path d="M909,719 910.5,719.7"/>
<path d="M910,731 911.5,731.7"/>
<path d="M810,754 811.5,754.7"/>
<path d="M826,760 827.5,760.7"/>
<path d="M944,655 945.5,655.7"/>
<path d="M948,651.5 949.5,652.2"/>
<path d="M919.5,660 921,660.7"/>
<path d="M1016,738 1017.5,738.7"/>
<path d="M1020,742 1021.5,742.7"/>
<path d="M686,752 687.5,752.7"/>
<path d="M919,557 920.5,557.7"/>
<path d="M925,554 926.5,554.7"/>
<path d="M931,554 932.5,554.7"/>
<path d="M924,560 925.5,560.7"/>
<path d="M919,588 920.5,588.7"/>
<path d="M918.5,598 920,598.7"/>
<path d="M916,738.7 902.7,756"/>
<circle cx="920" cy="566" r="1.5" fill="#4D4D4D" stroke="none"/>
<circle cx="923" cy="568" r="1.5" fill="#4D4D4D" stroke="none"/>
<circle cx="921" cy="571" r="1.5" fill="#4D4D4D" stroke="none"/>
<circle cx="924" cy="572" r="1.3" fill="#4D4D4D" stroke="none"/>
<circle cx="918.5" cy="569" r="1.2" fill="#4D4D4D" stroke="none"/>
<circle cx="922" cy="563" r="0.9" fill="#4D4D4D" stroke="none"/>
<circle cx="842" cy="721" r="1.3" fill="#4D4D4D" stroke="none"/>
<circle cx="778" cy="724" r="1.3" fill="#4D4D4D" stroke="none"/>
<circle cx="878" cy="636" r="1.7" fill="#4D4D4D" stroke="none"/>
<circle cx="882" cy="637.5" r="1.4" fill="#4D4D4D" stroke="none"/>
<circle cx="872" cy="663" r="1.7" fill="#4D4D4D" stroke="none"/>
<circle cx="876" cy="660" r="1.4" fill="#4D4D4D" stroke="none"/>
<circle cx="868" cy="666.5" r="1.2" fill="#4D4D4D" stroke="none"/>
<circle cx="850" cy="681" r="1.5" fill="#4D4D4D" stroke="none"/>
<circle cx="854" cy="680" r="1.1" fill="#4D4D4D" stroke="none"/>
<circle cx="884" cy="645" r="1.0" fill="#4D4D4D" stroke="none"/>
<circle cx="913" cy="603.5" r="1.0" fill="#4D4D4D" stroke="none"/>
<circle cx="905" cy="609" r="1.0" fill="#4D4D4D" stroke="none"/>
</g>
<!-- frame -->
<path d="M24.5,1175 V24.5 H1175" fill="none" stroke="#000" stroke-width="1"/>
<path d="M24,1175 H1175 V24" fill="none" stroke="#000" stroke-width="2"/>
<!-- title -->
<g transform="translate(0,107) scale(1,1.04)" font-size="52" stroke="#000" stroke-width="0.35"><text class="t" x="49" y="0">父系：</text><text class="t" x="217.6" y="0">O-MF60838 (含下游)</text></g>
<!-- legend -->
<text class="t" x="54" y="786" font-size="36.6">相对占比</text>
<g shape-rendering="crispEdges">
<rect x="58" y="805.0" width="33" height="34" fill="#FFFFE5"/>
<rect x="58" y="838.6" width="33" height="34" fill="#FFF8C1"/>
<rect x="58" y="872.2" width="33" height="34" fill="#FEE79B"/>
<rect x="58" y="905.8" width="33" height="34" fill="#FECE65"/>
<rect x="58" y="939.4" width="33" height="34" fill="#FEAC3A"/>
<rect x="58" y="973.0" width="33" height="34" fill="#F68720"/>
<rect x="58" y="1006.6" width="33" height="34" fill="#E1640E"/>
<rect x="58" y="1040.2" width="33" height="34" fill="#C14702"/>
<rect x="58" y="1073.8" width="33" height="34" fill="#933204"/>
<rect x="58" y="1107.4" width="33" height="34" fill="#662506"/>
</g>
<g class="t" font-size="28.3" stroke="#000" stroke-width="0.2">
<text x="100" y="0" transform="translate(0,833.7) scale(1,1.03)">0.035% - 0.111%</text>
<text x="100" y="0" transform="translate(0,867.3) scale(1,1.03)">0.111% - 0.183%</text>
<text x="100" y="0" transform="translate(0,900.9) scale(1,1.03)">0.183% - 0.264%</text>
<text x="100" y="0" transform="translate(0,934.5) scale(1,1.03)">0.264% - 0.383%</text>
<text x="100" y="0" transform="translate(0,968.1) scale(1,1.03)">0.383% - 0.498%</text>
<text x="100" y="0" transform="translate(0,1001.7) scale(1,1.03)">0.498% - 0.602%</text>
<text x="100" y="0" transform="translate(0,1035.3) scale(1,1.03)">0.602% - 0.735%</text>
<text x="100" y="0" transform="translate(0,1068.9) scale(1,1.03)">0.735% - 0.909%</text>
<text x="100" y="0" transform="translate(0,1102.5) scale(1,1.03)">0.909% - 1.136%</text>
<text x="100" y="0" transform="translate(0,1136.1) scale(1,1.03)">1.136% - 2.000%</text>
</g>
<text class="t" x="945" y="1137" font-size="28.1" stroke="#000" stroke-width="0.2">作者:O1a溯源群</text>

</svg></body></html>
